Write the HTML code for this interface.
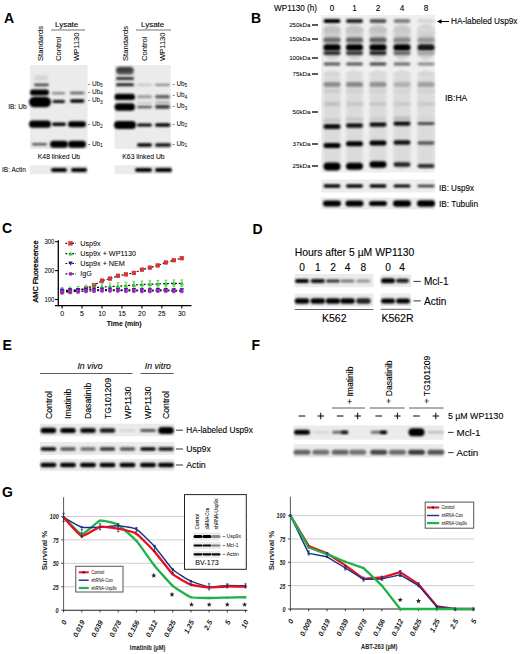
<!DOCTYPE html><html><head><meta charset="utf-8"><style>html,body{margin:0;padding:0;background:#fff;}svg{display:block;}text{font-family:"Liberation Sans",sans-serif;}</style></head><body>
<svg width="520" height="654" viewBox="0 0 520 654">
<defs><filter id="b1" x="-50%" y="-100%" width="200%" height="300%"><feGaussianBlur stdDeviation="0.9"/></filter><filter id="b2" x="-50%" y="-100%" width="200%" height="300%"><feGaussianBlur stdDeviation="1.6"/></filter><filter id="b05" x="-50%" y="-100%" width="200%" height="300%"><feGaussianBlur stdDeviation="0.5"/></filter></defs>
<rect width="520" height="654" fill="#fff"/>
<text x="4.00" y="23.30" font-size="14" text-anchor="start" font-weight="bold" font-style="normal" fill="#000" stroke="#000" stroke-width="0.0">A</text>
<text x="55.00" y="27.00" font-size="8" text-anchor="start" font-weight="normal" font-style="normal" fill="#000" stroke="#000" stroke-width="0.1">Lysate</text>
<line x1="51.00" y1="30.00" x2="85.00" y2="30.00" stroke="#333" stroke-width="0.7"/>
<text x="43.27" y="61.00" font-size="7.7" text-anchor="start" font-weight="normal" font-style="normal" fill="#000" stroke="#000" stroke-width="0.05" transform="rotate(-90 43.27 61.00)">Standards</text>
<text x="60.74" y="61.00" font-size="7.6" text-anchor="start" font-weight="normal" font-style="normal" fill="#000" stroke="#000" stroke-width="0.05" transform="rotate(-90 60.74 61.00)">Control</text>
<text x="79.24" y="61.00" font-size="7.6" text-anchor="start" font-weight="normal" font-style="normal" fill="#000" stroke="#000" stroke-width="0.05" transform="rotate(-90 79.24 61.00)">WP1130</text>
<rect x="30.00" y="65.00" width="57.50" height="84.00" fill="#ebebeb"/>
<text x="59.00" y="159.45" font-size="6.8" text-anchor="middle" font-weight="normal" font-style="normal" fill="#000" stroke="#000" stroke-width="0.05">K48 linked Ub</text>
<rect x="30.00" y="165.30" width="57.50" height="8.90" fill="#ebebeb"/>
<text x="141.00" y="27.00" font-size="8" text-anchor="start" font-weight="normal" font-style="normal" fill="#000" stroke="#000" stroke-width="0.1">Lysate</text>
<line x1="136.00" y1="30.00" x2="171.00" y2="30.00" stroke="#333" stroke-width="0.7"/>
<text x="127.77" y="61.00" font-size="7.7" text-anchor="start" font-weight="normal" font-style="normal" fill="#000" stroke="#000" stroke-width="0.05" transform="rotate(-90 127.77 61.00)">Standards</text>
<text x="146.74" y="61.00" font-size="7.6" text-anchor="start" font-weight="normal" font-style="normal" fill="#000" stroke="#000" stroke-width="0.05" transform="rotate(-90 146.74 61.00)">Control</text>
<text x="165.24" y="61.00" font-size="7.6" text-anchor="start" font-weight="normal" font-style="normal" fill="#000" stroke="#000" stroke-width="0.05" transform="rotate(-90 165.24 61.00)">WP1130</text>
<rect x="114.50" y="65.00" width="56.20" height="84.00" fill="#ebebeb"/>
<text x="143.50" y="159.45" font-size="6.8" text-anchor="middle" font-weight="normal" font-style="normal" fill="#000" stroke="#000" stroke-width="0.05">K63 linked Ub</text>
<rect x="114.50" y="165.30" width="57.70" height="8.90" fill="#ebebeb"/>
<rect x="34.00" y="83.40" width="14.80" height="2.80" rx="1.40" fill="#464646" filter="url(#b1)"/>
<rect x="34.00" y="75.00" width="14.00" height="6.00" rx="3.00" fill="#d4d4d4" filter="url(#b2)"/>
<rect x="30.00" y="89.50" width="19.00" height="6.00" rx="3.00" fill="#000000" filter="url(#b1)"/>
<rect x="52.00" y="92.30" width="13.00" height="2.00" rx="1.00" fill="#767676" filter="url(#b1)"/>
<rect x="70.00" y="91.85" width="14.50" height="2.50" rx="1.25" fill="#5e5e5e" filter="url(#b1)"/>
<rect x="29.00" y="96.75" width="22.00" height="10.50" rx="5.25" fill="#000000" filter="url(#b1)"/>
<rect x="52.50" y="100.00" width="12.50" height="3.00" rx="1.50" fill="#0c0c0c" filter="url(#b1)"/>
<rect x="70.00" y="99.35" width="14.50" height="3.50" rx="1.75" fill="#000000" filter="url(#b1)"/>
<rect x="29.00" y="120.60" width="22.00" height="7.20" rx="3.60" fill="#000000" filter="url(#b1)"/>
<rect x="52.00" y="122.55" width="14.00" height="3.50" rx="1.75" fill="#000000" filter="url(#b1)"/>
<rect x="68.00" y="121.30" width="18.00" height="6.00" rx="3.00" fill="#000000" filter="url(#b1)"/>
<rect x="32.00" y="143.05" width="15.00" height="2.50" rx="1.25" fill="#525252" filter="url(#b1)"/>
<rect x="50.00" y="140.80" width="18.00" height="7.00" rx="3.50" fill="#000000" filter="url(#b1)"/>
<rect x="68.00" y="140.80" width="18.00" height="7.00" rx="3.50" fill="#000000" filter="url(#b1)"/>
<rect x="51.00" y="168.00" width="16.00" height="4.00" rx="2.00" fill="#000000" filter="url(#b1)"/>
<rect x="71.00" y="168.00" width="16.00" height="4.00" rx="2.00" fill="#000000" filter="url(#b1)"/>
<text x="88.00" y="85.80" font-size="6.4" fill="#000">- Ub<tspan font-size="5" dy="1.6">5</tspan></text>
<text x="88.00" y="93.70" font-size="6.4" fill="#000">- Ub<tspan font-size="5" dy="1.6">4</tspan></text>
<text x="88.00" y="102.30" font-size="6.4" fill="#000">- Ub<tspan font-size="5" dy="1.6">3</tspan></text>
<text x="88.00" y="126.00" font-size="6.4" fill="#000">- Ub<tspan font-size="5" dy="1.6">2</tspan></text>
<text x="88.00" y="145.50" font-size="6.4" fill="#000">- Ub<tspan font-size="5" dy="1.6">1</tspan></text>
<text x="8.25" y="109.38" font-size="6.6" text-anchor="start" font-weight="normal" font-style="normal" fill="#000" stroke="#000" stroke-width="0.05">IB: Ub</text>
<text x="2.00" y="171.84" font-size="6.5" text-anchor="start" font-weight="normal" font-style="normal" fill="#000" stroke="#000" stroke-width="0.05">IB: Actin</text>
<rect x="116.00" y="66.80" width="18.00" height="8.00" rx="4.00" fill="#5e5e5e" filter="url(#b1)"/>
<rect x="117.00" y="68.00" width="15.00" height="4.00" rx="2.00" fill="#3b3b3b" filter="url(#b1)"/>
<rect x="116.00" y="77.10" width="18.00" height="2.80" rx="1.40" fill="#2f2f2f" filter="url(#b1)"/>
<rect x="116.00" y="83.30" width="18.00" height="3.00" rx="1.50" fill="#232323" filter="url(#b1)"/>
<rect x="137.00" y="83.90" width="15.00" height="1.80" rx="0.90" fill="#bcbcbc" filter="url(#b1)"/>
<rect x="155.00" y="83.70" width="15.00" height="2.20" rx="1.10" fill="#8d8d8d" filter="url(#b1)"/>
<rect x="114.50" y="93.75" width="20.50" height="6.30" rx="3.15" fill="#000000" filter="url(#b1)"/>
<rect x="137.00" y="95.20" width="15.00" height="3.00" rx="1.50" fill="#999999" filter="url(#b1)"/>
<rect x="155.00" y="94.95" width="15.00" height="3.50" rx="1.75" fill="#5e5e5e" filter="url(#b1)"/>
<rect x="114.50" y="103.25" width="20.50" height="7.50" rx="3.75" fill="#000000" filter="url(#b1)"/>
<rect x="137.00" y="105.75" width="15.00" height="2.50" rx="1.25" fill="#525252" filter="url(#b1)"/>
<rect x="155.00" y="104.70" width="15.00" height="4.00" rx="2.00" fill="#3b3b3b" filter="url(#b1)"/>
<rect x="137.00" y="102.00" width="15.00" height="2.00" rx="1.00" fill="#c8c8c8" filter="url(#b1)"/>
<rect x="155.00" y="101.25" width="15.00" height="2.50" rx="1.25" fill="#b0b0b0" filter="url(#b1)"/>
<rect x="114.00" y="121.00" width="22.00" height="8.00" rx="4.00" fill="#000000" filter="url(#b1)"/>
<rect x="137.00" y="123.40" width="15.00" height="3.20" rx="1.60" fill="#000000" filter="url(#b1)"/>
<rect x="155.00" y="123.25" width="15.50" height="3.50" rx="1.75" fill="#000000" filter="url(#b1)"/>
<rect x="137.00" y="143.25" width="15.00" height="3.50" rx="1.75" fill="#000000" filter="url(#b1)"/>
<rect x="155.00" y="143.25" width="16.00" height="3.50" rx="1.75" fill="#0c0c0c" filter="url(#b1)"/>
<rect x="135.00" y="168.00" width="17.00" height="4.00" rx="2.00" fill="#000000" filter="url(#b1)"/>
<rect x="155.00" y="168.00" width="17.00" height="4.00" rx="2.00" fill="#000000" filter="url(#b1)"/>
<text x="172.50" y="85.80" font-size="6.4" fill="#000">- Ub<tspan font-size="5" dy="1.6">5</tspan></text>
<text x="172.50" y="97.30" font-size="6.4" fill="#000">- Ub<tspan font-size="5" dy="1.6">4</tspan></text>
<text x="172.50" y="108.00" font-size="6.4" fill="#000">- Ub<tspan font-size="5" dy="1.6">3</tspan></text>
<text x="172.50" y="125.80" font-size="6.4" fill="#000">- Ub<tspan font-size="5" dy="1.6">2</tspan></text>
<text x="172.50" y="145.75" font-size="6.4" fill="#000">- Ub<tspan font-size="5" dy="1.6">1</tspan></text>
<text x="251.00" y="23.30" font-size="14" text-anchor="start" font-weight="bold" font-style="normal" fill="#000" stroke="#000" stroke-width="0.0">B</text>
<text x="274.00" y="10.95" font-size="8.2" text-anchor="start" font-weight="normal" font-style="normal" fill="#000" stroke="#000" stroke-width="0.1">WP1130 (h)</text>
<text x="332.00" y="10.95" font-size="8.2" text-anchor="middle" font-weight="normal" font-style="normal" fill="#000" stroke="#000" stroke-width="0.1">0</text>
<text x="354.50" y="10.95" font-size="8.2" text-anchor="middle" font-weight="normal" font-style="normal" fill="#000" stroke="#000" stroke-width="0.1">1</text>
<text x="378.00" y="10.95" font-size="8.2" text-anchor="middle" font-weight="normal" font-style="normal" fill="#000" stroke="#000" stroke-width="0.1">2</text>
<text x="402.00" y="10.95" font-size="8.2" text-anchor="middle" font-weight="normal" font-style="normal" fill="#000" stroke="#000" stroke-width="0.1">4</text>
<text x="426.00" y="10.95" font-size="8.2" text-anchor="middle" font-weight="normal" font-style="normal" fill="#000" stroke="#000" stroke-width="0.1">8</text>
<rect x="321.00" y="15.00" width="114.00" height="157.50" fill="#efefef"/>
<rect x="323.50" y="24.00" width="17.00" height="36.00" rx="8.50" fill="#cfcfcf" filter="url(#b2)"/>
<rect x="323.50" y="70.00" width="17.00" height="100.00" rx="8.50" fill="#dbdbdb" filter="url(#b2)"/>
<rect x="346.00" y="24.00" width="17.00" height="36.00" rx="8.50" fill="#cfcfcf" filter="url(#b2)"/>
<rect x="346.00" y="70.00" width="17.00" height="100.00" rx="8.50" fill="#dbdbdb" filter="url(#b2)"/>
<rect x="369.50" y="24.00" width="17.00" height="36.00" rx="8.50" fill="#cfcfcf" filter="url(#b2)"/>
<rect x="369.50" y="70.00" width="17.00" height="100.00" rx="8.50" fill="#dbdbdb" filter="url(#b2)"/>
<rect x="393.50" y="24.00" width="17.00" height="36.00" rx="8.50" fill="#cfcfcf" filter="url(#b2)"/>
<rect x="393.50" y="70.00" width="17.00" height="100.00" rx="8.50" fill="#dbdbdb" filter="url(#b2)"/>
<rect x="417.50" y="24.00" width="17.00" height="36.00" rx="8.50" fill="#cfcfcf" filter="url(#b2)"/>
<rect x="417.50" y="70.00" width="17.00" height="100.00" rx="8.50" fill="#dbdbdb" filter="url(#b2)"/>
<text x="310.50" y="27.23" font-size="6.2" text-anchor="end" font-weight="normal" font-style="normal" fill="#000" stroke="#000" stroke-width="0.05">250kDa</text>
<line x1="312.00" y1="25.00" x2="318.00" y2="25.00" stroke="#000" stroke-width="1.3"/>
<text x="310.50" y="41.23" font-size="6.2" text-anchor="end" font-weight="normal" font-style="normal" fill="#000" stroke="#000" stroke-width="0.05">150kDa</text>
<line x1="312.00" y1="39.00" x2="318.00" y2="39.00" stroke="#000" stroke-width="1.3"/>
<text x="310.50" y="60.23" font-size="6.2" text-anchor="end" font-weight="normal" font-style="normal" fill="#000" stroke="#000" stroke-width="0.05">100kDa</text>
<line x1="312.00" y1="58.00" x2="318.00" y2="58.00" stroke="#000" stroke-width="1.3"/>
<text x="310.50" y="76.23" font-size="6.2" text-anchor="end" font-weight="normal" font-style="normal" fill="#000" stroke="#000" stroke-width="0.05">75kDa</text>
<line x1="312.00" y1="74.00" x2="318.00" y2="74.00" stroke="#000" stroke-width="1.3"/>
<text x="310.50" y="114.23" font-size="6.2" text-anchor="end" font-weight="normal" font-style="normal" fill="#000" stroke="#000" stroke-width="0.05">50kDa</text>
<line x1="312.00" y1="112.00" x2="318.00" y2="112.00" stroke="#000" stroke-width="1.3"/>
<text x="310.50" y="146.23" font-size="6.2" text-anchor="end" font-weight="normal" font-style="normal" fill="#000" stroke="#000" stroke-width="0.05">37kDa</text>
<line x1="312.00" y1="144.00" x2="318.00" y2="144.00" stroke="#000" stroke-width="1.3"/>
<text x="310.50" y="168.23" font-size="6.2" text-anchor="end" font-weight="normal" font-style="normal" fill="#000" stroke="#000" stroke-width="0.05">25kDa</text>
<line x1="312.00" y1="166.00" x2="318.00" y2="166.00" stroke="#000" stroke-width="1.3"/>
<rect x="323.50" y="19.00" width="17.00" height="4.00" rx="2.00" fill="#000000" filter="url(#b1)"/>
<rect x="346.00" y="19.00" width="17.00" height="4.00" rx="2.00" fill="#232323" filter="url(#b1)"/>
<rect x="369.50" y="19.00" width="17.00" height="4.00" rx="2.00" fill="#525252" filter="url(#b1)"/>
<rect x="393.50" y="19.00" width="17.00" height="4.00" rx="2.00" fill="#818181" filter="url(#b1)"/>
<rect x="417.50" y="19.00" width="17.00" height="4.00" rx="2.00" fill="#d4d4d4" filter="url(#b1)"/>
<rect x="323.50" y="27.00" width="17.00" height="6.00" rx="3.00" fill="#c1c1c1" filter="url(#b1)"/>
<rect x="346.00" y="27.00" width="17.00" height="6.00" rx="3.00" fill="#c5c5c5" filter="url(#b1)"/>
<rect x="369.50" y="27.00" width="17.00" height="6.00" rx="3.00" fill="#c1c1c1" filter="url(#b1)"/>
<rect x="393.50" y="27.00" width="17.00" height="6.00" rx="3.00" fill="#cacaca" filter="url(#b1)"/>
<rect x="417.50" y="27.00" width="17.00" height="6.00" rx="3.00" fill="#d8d8d8" filter="url(#b1)"/>
<rect x="323.50" y="37.50" width="17.00" height="5.00" rx="2.50" fill="#6a6a6a" filter="url(#b1)"/>
<rect x="346.00" y="37.50" width="17.00" height="5.00" rx="2.50" fill="#636363" filter="url(#b1)"/>
<rect x="369.50" y="37.50" width="17.00" height="5.00" rx="2.50" fill="#5e5e5e" filter="url(#b1)"/>
<rect x="393.50" y="37.50" width="17.00" height="5.00" rx="2.50" fill="#888888" filter="url(#b1)"/>
<rect x="417.50" y="37.50" width="17.00" height="5.00" rx="2.50" fill="#999999" filter="url(#b1)"/>
<rect x="323.50" y="44.25" width="17.00" height="6.50" rx="3.25" fill="#000000" filter="url(#b1)"/>
<rect x="346.00" y="44.25" width="17.00" height="6.50" rx="3.25" fill="#000000" filter="url(#b1)"/>
<rect x="369.50" y="44.25" width="17.00" height="6.50" rx="3.25" fill="#000000" filter="url(#b1)"/>
<rect x="393.50" y="44.25" width="17.00" height="6.50" rx="3.25" fill="#000000" filter="url(#b1)"/>
<rect x="417.50" y="44.25" width="17.00" height="6.50" rx="3.25" fill="#181818" filter="url(#b1)"/>
<rect x="323.50" y="51.00" width="17.00" height="4.00" rx="2.00" fill="#2f2f2f" filter="url(#b1)"/>
<rect x="346.00" y="51.00" width="17.00" height="4.00" rx="2.00" fill="#3b3b3b" filter="url(#b1)"/>
<rect x="369.50" y="51.00" width="17.00" height="4.00" rx="2.00" fill="#232323" filter="url(#b1)"/>
<rect x="393.50" y="51.00" width="17.00" height="4.00" rx="2.00" fill="#6a6a6a" filter="url(#b1)"/>
<rect x="417.50" y="51.00" width="17.00" height="4.00" rx="2.00" fill="#a4a4a4" filter="url(#b1)"/>
<rect x="323.50" y="62.25" width="17.00" height="3.50" rx="1.75" fill="#636363" filter="url(#b1)"/>
<rect x="346.00" y="62.25" width="17.00" height="3.50" rx="1.75" fill="#636363" filter="url(#b1)"/>
<rect x="369.50" y="62.25" width="17.00" height="3.50" rx="1.75" fill="#525252" filter="url(#b1)"/>
<rect x="393.50" y="62.25" width="17.00" height="3.50" rx="1.75" fill="#767676" filter="url(#b1)"/>
<rect x="417.50" y="62.25" width="17.00" height="3.50" rx="1.75" fill="#929292" filter="url(#b1)"/>
<rect x="323.50" y="72.50" width="17.00" height="3.00" rx="1.50" fill="#d4d4d4" filter="url(#b1)"/>
<rect x="346.00" y="72.50" width="17.00" height="3.00" rx="1.50" fill="#d8d8d8" filter="url(#b1)"/>
<rect x="369.50" y="72.50" width="17.00" height="3.00" rx="1.50" fill="#d8d8d8" filter="url(#b1)"/>
<rect x="393.50" y="72.50" width="17.00" height="3.00" rx="1.50" fill="#d8d8d8" filter="url(#b1)"/>
<rect x="417.50" y="72.50" width="17.00" height="3.00" rx="1.50" fill="#d4d4d4" filter="url(#b1)"/>
<rect x="323.50" y="82.00" width="17.00" height="5.00" rx="2.50" fill="#8d8d8d" filter="url(#b1)"/>
<rect x="346.00" y="82.00" width="17.00" height="5.00" rx="2.50" fill="#888888" filter="url(#b1)"/>
<rect x="369.50" y="82.00" width="17.00" height="5.00" rx="2.50" fill="#929292" filter="url(#b1)"/>
<rect x="393.50" y="82.00" width="17.00" height="5.00" rx="2.50" fill="#b0b0b0" filter="url(#b1)"/>
<rect x="417.50" y="82.00" width="17.00" height="5.00" rx="2.50" fill="#a0a0a0" filter="url(#b1)"/>
<rect x="323.50" y="89.50" width="17.00" height="3.00" rx="1.50" fill="#c8c8c8" filter="url(#b1)"/>
<rect x="346.00" y="89.50" width="17.00" height="3.00" rx="1.50" fill="#cfcfcf" filter="url(#b1)"/>
<rect x="369.50" y="89.50" width="17.00" height="3.00" rx="1.50" fill="#cfcfcf" filter="url(#b1)"/>
<rect x="393.50" y="89.50" width="17.00" height="3.00" rx="1.50" fill="#d4d4d4" filter="url(#b1)"/>
<rect x="417.50" y="89.50" width="17.00" height="3.00" rx="1.50" fill="#cfcfcf" filter="url(#b1)"/>
<rect x="323.50" y="102.00" width="17.00" height="4.00" rx="2.00" fill="#c1c1c1" filter="url(#b1)"/>
<rect x="346.00" y="102.00" width="17.00" height="4.00" rx="2.00" fill="#c8c8c8" filter="url(#b1)"/>
<rect x="369.50" y="102.00" width="17.00" height="4.00" rx="2.00" fill="#c8c8c8" filter="url(#b1)"/>
<rect x="393.50" y="102.00" width="17.00" height="4.00" rx="2.00" fill="#cacaca" filter="url(#b1)"/>
<rect x="417.50" y="102.00" width="17.00" height="4.00" rx="2.00" fill="#cacaca" filter="url(#b1)"/>
<rect x="323.50" y="124.00" width="17.00" height="5.00" rx="2.50" fill="#0c0c0c" filter="url(#b1)"/>
<rect x="346.00" y="123.25" width="17.00" height="4.50" rx="2.25" fill="#0c0c0c" filter="url(#b1)"/>
<rect x="369.50" y="122.25" width="17.00" height="4.50" rx="2.25" fill="#0c0c0c" filter="url(#b1)"/>
<rect x="393.50" y="121.25" width="17.00" height="4.50" rx="2.25" fill="#0c0c0c" filter="url(#b1)"/>
<rect x="417.50" y="122.00" width="17.00" height="3.00" rx="1.50" fill="#464646" filter="url(#b1)"/>
<rect x="323.50" y="143.00" width="17.00" height="5.00" rx="2.50" fill="#000000" filter="url(#b1)"/>
<rect x="346.00" y="141.30" width="17.00" height="5.00" rx="2.50" fill="#000000" filter="url(#b1)"/>
<rect x="369.50" y="140.50" width="17.00" height="5.00" rx="2.50" fill="#000000" filter="url(#b1)"/>
<rect x="393.50" y="140.25" width="17.00" height="4.50" rx="2.25" fill="#0c0c0c" filter="url(#b1)"/>
<rect x="417.50" y="141.25" width="17.00" height="3.50" rx="1.75" fill="#525252" filter="url(#b1)"/>
<rect x="323.50" y="162.50" width="17.00" height="8.00" rx="4.00" fill="#000000" filter="url(#b1)"/>
<rect x="346.00" y="162.80" width="17.00" height="7.00" rx="3.50" fill="#000000" filter="url(#b1)"/>
<rect x="369.50" y="161.25" width="17.00" height="6.50" rx="3.25" fill="#000000" filter="url(#b1)"/>
<rect x="393.50" y="162.25" width="17.00" height="4.50" rx="2.25" fill="#232323" filter="url(#b1)"/>
<rect x="417.50" y="164.00" width="17.00" height="4.00" rx="2.00" fill="#2f2f2f" filter="url(#b1)"/>
<rect x="323.50" y="118.50" width="17.00" height="4.00" rx="2.00" fill="#c8c8c8" filter="url(#b1)"/>
<rect x="346.00" y="117.50" width="17.00" height="4.00" rx="2.00" fill="#c8c8c8" filter="url(#b1)"/>
<rect x="369.50" y="117.00" width="17.00" height="4.00" rx="2.00" fill="#cccccc" filter="url(#b1)"/>
<rect x="393.50" y="116.50" width="17.00" height="4.00" rx="2.00" fill="#bcbcbc" filter="url(#b1)"/>
<rect x="417.50" y="117.00" width="17.00" height="3.00" rx="1.50" fill="#d4d4d4" filter="url(#b1)"/>
<line x1="440.00" y1="21.50" x2="449.00" y2="21.50" stroke="#000" stroke-width="1"/>
<polygon points="437,21.5 441.5,19.3 441.5,23.7" fill="#000"/>
<text x="451.00" y="24.47" font-size="8.25" text-anchor="start" font-weight="normal" font-style="normal" fill="#000" stroke="#000" stroke-width="0.1">HA-labeled Usp9x</text>
<text x="445.00" y="100.66" font-size="8.5" text-anchor="start" font-weight="normal" font-style="normal" fill="#000" stroke="#000" stroke-width="0.1">IB:HA</text>
<rect x="321.00" y="179.50" width="114.00" height="13.00" fill="#ededed"/>
<rect x="323.50" y="184.25" width="17.00" height="3.50" rx="1.75" fill="#000000" filter="url(#b1)"/>
<rect x="346.00" y="184.25" width="17.00" height="3.50" rx="1.75" fill="#000000" filter="url(#b1)"/>
<rect x="369.50" y="184.25" width="17.00" height="3.50" rx="1.75" fill="#000000" filter="url(#b1)"/>
<rect x="393.50" y="184.50" width="17.00" height="3.00" rx="1.50" fill="#000000" filter="url(#b1)"/>
<rect x="417.50" y="184.75" width="17.00" height="2.50" rx="1.25" fill="#2f2f2f" filter="url(#b1)"/>
<rect x="321.00" y="197.50" width="114.00" height="12.00" fill="#ebebeb"/>
<rect x="323.00" y="200.50" width="18.00" height="6.00" rx="3.00" fill="#000000" filter="url(#b1)"/>
<rect x="345.50" y="200.50" width="18.00" height="6.00" rx="3.00" fill="#000000" filter="url(#b1)"/>
<rect x="369.00" y="201.00" width="18.00" height="5.00" rx="2.50" fill="#000000" filter="url(#b1)"/>
<rect x="393.00" y="200.25" width="18.00" height="6.50" rx="3.25" fill="#000000" filter="url(#b1)"/>
<rect x="417.00" y="200.25" width="18.00" height="6.50" rx="3.25" fill="#000000" filter="url(#b1)"/>
<text x="439.00" y="190.56" font-size="8.5" text-anchor="start" font-weight="normal" font-style="normal" fill="#000" stroke="#000" stroke-width="0.1" textLength="35" lengthAdjust="spacingAndGlyphs">IB: Usp9x</text>
<text x="439.00" y="207.06" font-size="8.5" text-anchor="start" font-weight="normal" font-style="normal" fill="#000" stroke="#000" stroke-width="0.1" textLength="39" lengthAdjust="spacingAndGlyphs">IB: Tubulin</text>
<text x="2.00" y="233.30" font-size="14" text-anchor="start" font-weight="bold" font-style="normal" fill="#000" stroke="#000" stroke-width="0.0">C</text>
<line x1="58.30" y1="240.30" x2="58.30" y2="306.30" stroke="#000" stroke-width="1.3"/>
<line x1="55.00" y1="305.70" x2="191.50" y2="305.70" stroke="#000" stroke-width="1.3"/>
<line x1="55.10" y1="299.50" x2="58.30" y2="299.50" stroke="#000" stroke-width="1.1"/>
<text x="54.40" y="302.02" font-size="7" text-anchor="end" font-weight="normal" font-style="normal" fill="#000" stroke="#000" stroke-width="0.05" textLength="10" lengthAdjust="spacingAndGlyphs">100</text>
<line x1="55.10" y1="270.60" x2="58.30" y2="270.60" stroke="#000" stroke-width="1.1"/>
<text x="54.40" y="273.12" font-size="7" text-anchor="end" font-weight="normal" font-style="normal" fill="#000" stroke="#000" stroke-width="0.05" textLength="10" lengthAdjust="spacingAndGlyphs">200</text>
<line x1="55.10" y1="241.70" x2="58.30" y2="241.70" stroke="#000" stroke-width="1.1"/>
<text x="54.40" y="244.22" font-size="7" text-anchor="end" font-weight="normal" font-style="normal" fill="#000" stroke="#000" stroke-width="0.05" textLength="10" lengthAdjust="spacingAndGlyphs">300</text>
<line x1="62.10" y1="305.70" x2="62.10" y2="308.60" stroke="#000" stroke-width="1.1"/>
<text x="62.10" y="316.02" font-size="7" text-anchor="middle" font-weight="normal" font-style="normal" fill="#000" stroke="#000" stroke-width="0.05" textLength="3.9" lengthAdjust="spacingAndGlyphs">0</text>
<line x1="82.05" y1="305.70" x2="82.05" y2="308.60" stroke="#000" stroke-width="1.1"/>
<text x="82.05" y="316.02" font-size="7" text-anchor="middle" font-weight="normal" font-style="normal" fill="#000" stroke="#000" stroke-width="0.05" textLength="3.9" lengthAdjust="spacingAndGlyphs">5</text>
<line x1="102.00" y1="305.70" x2="102.00" y2="308.60" stroke="#000" stroke-width="1.1"/>
<text x="102.00" y="316.02" font-size="7" text-anchor="middle" font-weight="normal" font-style="normal" fill="#000" stroke="#000" stroke-width="0.05" textLength="7.6" lengthAdjust="spacingAndGlyphs">10</text>
<line x1="121.95" y1="305.70" x2="121.95" y2="308.60" stroke="#000" stroke-width="1.1"/>
<text x="121.95" y="316.02" font-size="7" text-anchor="middle" font-weight="normal" font-style="normal" fill="#000" stroke="#000" stroke-width="0.05" textLength="7.6" lengthAdjust="spacingAndGlyphs">15</text>
<line x1="141.90" y1="305.70" x2="141.90" y2="308.60" stroke="#000" stroke-width="1.1"/>
<text x="141.90" y="316.02" font-size="7" text-anchor="middle" font-weight="normal" font-style="normal" fill="#000" stroke="#000" stroke-width="0.05" textLength="7.6" lengthAdjust="spacingAndGlyphs">20</text>
<line x1="161.85" y1="305.70" x2="161.85" y2="308.60" stroke="#000" stroke-width="1.1"/>
<text x="161.85" y="316.02" font-size="7" text-anchor="middle" font-weight="normal" font-style="normal" fill="#000" stroke="#000" stroke-width="0.05" textLength="7.6" lengthAdjust="spacingAndGlyphs">25</text>
<line x1="181.80" y1="305.70" x2="181.80" y2="308.60" stroke="#000" stroke-width="1.1"/>
<text x="181.80" y="316.02" font-size="7" text-anchor="middle" font-weight="normal" font-style="normal" fill="#000" stroke="#000" stroke-width="0.05" textLength="7.6" lengthAdjust="spacingAndGlyphs">30</text>
<text x="124.20" y="326.26" font-size="7.1" text-anchor="middle" font-weight="bold" font-style="normal" fill="#000" stroke="#000" stroke-width="0.0" textLength="35" lengthAdjust="spacingAndGlyphs">Time (min)</text>
<text x="38.06" y="302.50" font-size="7.4" text-anchor="start" font-weight="normal" font-style="normal" fill="#000" stroke="#000" stroke-width="0.3" transform="rotate(-90 38.06 302.50)" textLength="62" lengthAdjust="spacingAndGlyphs">AMC Fluorescence</text>
<polyline points="62.10,291.70 70.08,291.41 78.06,290.25 86.04,288.52 94.02,285.05 102.00,280.71 109.98,278.69 117.96,275.80 125.94,274.36 133.92,272.91 141.90,269.73 149.88,267.71 157.86,265.40 165.84,262.51 173.82,260.20 181.80,258.17" fill="none" stroke="#111" stroke-width="1.2" stroke-dasharray="2,1.9"/>
<polyline points="62.10,290.83 70.08,290.54 78.06,289.96 86.04,288.52 94.02,287.65 102.00,287.07 109.98,286.50 117.96,286.21 125.94,285.63 133.92,285.05 141.90,284.47 149.88,284.18 157.86,283.89 165.84,283.61 173.82,283.32 181.80,283.32" fill="none" stroke="#111" stroke-width="1.2" stroke-dasharray="2,1.9"/>
<polyline points="62.10,290.54 70.08,290.25 78.06,289.96 86.04,289.67 94.02,289.67 102.00,289.67 109.98,289.67 117.96,289.96 125.94,289.96 133.92,289.96 141.90,290.25 149.88,290.25 157.86,289.96 165.84,289.96 173.82,290.25 181.80,290.25" fill="none" stroke="#111" stroke-width="1.2" stroke-dasharray="2,1.9"/>
<polyline points="62.10,292.27 70.08,291.70 78.06,291.41 86.04,291.12 94.02,290.83 102.00,290.54 109.98,290.54 117.96,290.54 125.94,290.83 133.92,290.83 141.90,291.12 149.88,291.12 157.86,290.83 165.84,290.83 173.82,291.12 181.80,291.12" fill="none" stroke="#111" stroke-width="1.2" stroke-dasharray="2,1.9"/>
<line x1="62.10" y1="290.70" x2="62.10" y2="292.70" stroke="#e03030" stroke-width="0.8"/>
<line x1="60.70" y1="290.70" x2="63.50" y2="290.70" stroke="#e03030" stroke-width="0.8"/>
<line x1="60.70" y1="292.70" x2="63.50" y2="292.70" stroke="#e03030" stroke-width="0.8"/>
<rect x="60.20" y="289.80" width="3.80" height="3.80" fill="#e03030" stroke="#c02838" stroke-width="0.4"/>
<line x1="70.08" y1="290.41" x2="70.08" y2="292.41" stroke="#e03030" stroke-width="0.8"/>
<line x1="68.68" y1="290.41" x2="71.48" y2="290.41" stroke="#e03030" stroke-width="0.8"/>
<line x1="68.68" y1="292.41" x2="71.48" y2="292.41" stroke="#e03030" stroke-width="0.8"/>
<rect x="68.18" y="289.51" width="3.80" height="3.80" fill="#e03030" stroke="#c02838" stroke-width="0.4"/>
<line x1="78.06" y1="289.25" x2="78.06" y2="291.25" stroke="#e03030" stroke-width="0.8"/>
<line x1="76.66" y1="289.25" x2="79.46" y2="289.25" stroke="#e03030" stroke-width="0.8"/>
<line x1="76.66" y1="291.25" x2="79.46" y2="291.25" stroke="#e03030" stroke-width="0.8"/>
<rect x="76.16" y="288.35" width="3.80" height="3.80" fill="#e03030" stroke="#c02838" stroke-width="0.4"/>
<line x1="86.04" y1="287.52" x2="86.04" y2="289.52" stroke="#e03030" stroke-width="0.8"/>
<line x1="84.64" y1="287.52" x2="87.44" y2="287.52" stroke="#e03030" stroke-width="0.8"/>
<line x1="84.64" y1="289.52" x2="87.44" y2="289.52" stroke="#e03030" stroke-width="0.8"/>
<rect x="84.14" y="286.62" width="3.80" height="3.80" fill="#e03030" stroke="#c02838" stroke-width="0.4"/>
<line x1="94.02" y1="284.05" x2="94.02" y2="286.05" stroke="#e03030" stroke-width="0.8"/>
<line x1="92.62" y1="284.05" x2="95.42" y2="284.05" stroke="#e03030" stroke-width="0.8"/>
<line x1="92.62" y1="286.05" x2="95.42" y2="286.05" stroke="#e03030" stroke-width="0.8"/>
<rect x="92.12" y="283.15" width="3.80" height="3.80" fill="#e03030" stroke="#c02838" stroke-width="0.4"/>
<line x1="102.00" y1="279.71" x2="102.00" y2="281.71" stroke="#e03030" stroke-width="0.8"/>
<line x1="100.60" y1="279.71" x2="103.40" y2="279.71" stroke="#e03030" stroke-width="0.8"/>
<line x1="100.60" y1="281.71" x2="103.40" y2="281.71" stroke="#e03030" stroke-width="0.8"/>
<rect x="100.10" y="278.81" width="3.80" height="3.80" fill="#e03030" stroke="#c02838" stroke-width="0.4"/>
<line x1="109.98" y1="277.69" x2="109.98" y2="279.69" stroke="#e03030" stroke-width="0.8"/>
<line x1="108.58" y1="277.69" x2="111.38" y2="277.69" stroke="#e03030" stroke-width="0.8"/>
<line x1="108.58" y1="279.69" x2="111.38" y2="279.69" stroke="#e03030" stroke-width="0.8"/>
<rect x="108.08" y="276.79" width="3.80" height="3.80" fill="#e03030" stroke="#c02838" stroke-width="0.4"/>
<line x1="117.96" y1="274.80" x2="117.96" y2="276.80" stroke="#e03030" stroke-width="0.8"/>
<line x1="116.56" y1="274.80" x2="119.36" y2="274.80" stroke="#e03030" stroke-width="0.8"/>
<line x1="116.56" y1="276.80" x2="119.36" y2="276.80" stroke="#e03030" stroke-width="0.8"/>
<rect x="116.06" y="273.90" width="3.80" height="3.80" fill="#e03030" stroke="#c02838" stroke-width="0.4"/>
<line x1="125.94" y1="273.36" x2="125.94" y2="275.36" stroke="#e03030" stroke-width="0.8"/>
<line x1="124.54" y1="273.36" x2="127.34" y2="273.36" stroke="#e03030" stroke-width="0.8"/>
<line x1="124.54" y1="275.36" x2="127.34" y2="275.36" stroke="#e03030" stroke-width="0.8"/>
<rect x="124.04" y="272.46" width="3.80" height="3.80" fill="#e03030" stroke="#c02838" stroke-width="0.4"/>
<line x1="133.92" y1="271.91" x2="133.92" y2="273.91" stroke="#e03030" stroke-width="0.8"/>
<line x1="132.52" y1="271.91" x2="135.32" y2="271.91" stroke="#e03030" stroke-width="0.8"/>
<line x1="132.52" y1="273.91" x2="135.32" y2="273.91" stroke="#e03030" stroke-width="0.8"/>
<rect x="132.02" y="271.01" width="3.80" height="3.80" fill="#e03030" stroke="#c02838" stroke-width="0.4"/>
<line x1="141.90" y1="268.73" x2="141.90" y2="270.73" stroke="#e03030" stroke-width="0.8"/>
<line x1="140.50" y1="268.73" x2="143.30" y2="268.73" stroke="#e03030" stroke-width="0.8"/>
<line x1="140.50" y1="270.73" x2="143.30" y2="270.73" stroke="#e03030" stroke-width="0.8"/>
<rect x="140.00" y="267.83" width="3.80" height="3.80" fill="#e03030" stroke="#c02838" stroke-width="0.4"/>
<line x1="149.88" y1="266.71" x2="149.88" y2="268.71" stroke="#e03030" stroke-width="0.8"/>
<line x1="148.48" y1="266.71" x2="151.28" y2="266.71" stroke="#e03030" stroke-width="0.8"/>
<line x1="148.48" y1="268.71" x2="151.28" y2="268.71" stroke="#e03030" stroke-width="0.8"/>
<rect x="147.98" y="265.81" width="3.80" height="3.80" fill="#e03030" stroke="#c02838" stroke-width="0.4"/>
<line x1="157.86" y1="264.40" x2="157.86" y2="266.40" stroke="#e03030" stroke-width="0.8"/>
<line x1="156.46" y1="264.40" x2="159.26" y2="264.40" stroke="#e03030" stroke-width="0.8"/>
<line x1="156.46" y1="266.40" x2="159.26" y2="266.40" stroke="#e03030" stroke-width="0.8"/>
<rect x="155.96" y="263.50" width="3.80" height="3.80" fill="#e03030" stroke="#c02838" stroke-width="0.4"/>
<line x1="165.84" y1="261.51" x2="165.84" y2="263.51" stroke="#e03030" stroke-width="0.8"/>
<line x1="164.44" y1="261.51" x2="167.24" y2="261.51" stroke="#e03030" stroke-width="0.8"/>
<line x1="164.44" y1="263.51" x2="167.24" y2="263.51" stroke="#e03030" stroke-width="0.8"/>
<rect x="163.94" y="260.61" width="3.80" height="3.80" fill="#e03030" stroke="#c02838" stroke-width="0.4"/>
<line x1="173.82" y1="259.20" x2="173.82" y2="261.20" stroke="#e03030" stroke-width="0.8"/>
<line x1="172.42" y1="259.20" x2="175.22" y2="259.20" stroke="#e03030" stroke-width="0.8"/>
<line x1="172.42" y1="261.20" x2="175.22" y2="261.20" stroke="#e03030" stroke-width="0.8"/>
<rect x="171.92" y="258.30" width="3.80" height="3.80" fill="#e03030" stroke="#c02838" stroke-width="0.4"/>
<line x1="181.80" y1="257.17" x2="181.80" y2="259.17" stroke="#e03030" stroke-width="0.8"/>
<line x1="180.40" y1="257.17" x2="183.20" y2="257.17" stroke="#e03030" stroke-width="0.8"/>
<line x1="180.40" y1="259.17" x2="183.20" y2="259.17" stroke="#e03030" stroke-width="0.8"/>
<rect x="179.90" y="256.27" width="3.80" height="3.80" fill="#e03030" stroke="#c02838" stroke-width="0.4"/>
<line x1="62.10" y1="287.43" x2="62.10" y2="294.23" stroke="#30d030" stroke-width="0.8"/>
<line x1="60.70" y1="287.43" x2="63.50" y2="287.43" stroke="#30d030" stroke-width="0.8"/>
<line x1="60.70" y1="294.23" x2="63.50" y2="294.23" stroke="#30d030" stroke-width="0.8"/>
<polygon points="62.10,288.63 59.90,292.73 64.30,292.73" fill="#30d030"/>
<line x1="70.08" y1="287.14" x2="70.08" y2="293.94" stroke="#30d030" stroke-width="0.8"/>
<line x1="68.68" y1="287.14" x2="71.48" y2="287.14" stroke="#30d030" stroke-width="0.8"/>
<line x1="68.68" y1="293.94" x2="71.48" y2="293.94" stroke="#30d030" stroke-width="0.8"/>
<polygon points="70.08,288.34 67.88,292.44 72.28,292.44" fill="#30d030"/>
<line x1="78.06" y1="286.56" x2="78.06" y2="293.36" stroke="#30d030" stroke-width="0.8"/>
<line x1="76.66" y1="286.56" x2="79.46" y2="286.56" stroke="#30d030" stroke-width="0.8"/>
<line x1="76.66" y1="293.36" x2="79.46" y2="293.36" stroke="#30d030" stroke-width="0.8"/>
<polygon points="78.06,287.76 75.86,291.86 80.26,291.86" fill="#30d030"/>
<line x1="86.04" y1="285.12" x2="86.04" y2="291.92" stroke="#30d030" stroke-width="0.8"/>
<line x1="84.64" y1="285.12" x2="87.44" y2="285.12" stroke="#30d030" stroke-width="0.8"/>
<line x1="84.64" y1="291.92" x2="87.44" y2="291.92" stroke="#30d030" stroke-width="0.8"/>
<polygon points="86.04,286.32 83.84,290.42 88.24,290.42" fill="#30d030"/>
<line x1="94.02" y1="284.25" x2="94.02" y2="291.05" stroke="#30d030" stroke-width="0.8"/>
<line x1="92.62" y1="284.25" x2="95.42" y2="284.25" stroke="#30d030" stroke-width="0.8"/>
<line x1="92.62" y1="291.05" x2="95.42" y2="291.05" stroke="#30d030" stroke-width="0.8"/>
<polygon points="94.02,285.45 91.82,289.55 96.22,289.55" fill="#30d030"/>
<line x1="102.00" y1="283.67" x2="102.00" y2="290.47" stroke="#30d030" stroke-width="0.8"/>
<line x1="100.60" y1="283.67" x2="103.40" y2="283.67" stroke="#30d030" stroke-width="0.8"/>
<line x1="100.60" y1="290.47" x2="103.40" y2="290.47" stroke="#30d030" stroke-width="0.8"/>
<polygon points="102.00,284.87 99.80,288.97 104.20,288.97" fill="#30d030"/>
<line x1="109.98" y1="283.10" x2="109.98" y2="289.89" stroke="#30d030" stroke-width="0.8"/>
<line x1="108.58" y1="283.10" x2="111.38" y2="283.10" stroke="#30d030" stroke-width="0.8"/>
<line x1="108.58" y1="289.89" x2="111.38" y2="289.89" stroke="#30d030" stroke-width="0.8"/>
<polygon points="109.98,284.30 107.78,288.39 112.18,288.39" fill="#30d030"/>
<line x1="117.96" y1="282.81" x2="117.96" y2="289.61" stroke="#30d030" stroke-width="0.8"/>
<line x1="116.56" y1="282.81" x2="119.36" y2="282.81" stroke="#30d030" stroke-width="0.8"/>
<line x1="116.56" y1="289.61" x2="119.36" y2="289.61" stroke="#30d030" stroke-width="0.8"/>
<polygon points="117.96,284.01 115.76,288.11 120.16,288.11" fill="#30d030"/>
<line x1="125.94" y1="282.23" x2="125.94" y2="289.03" stroke="#30d030" stroke-width="0.8"/>
<line x1="124.54" y1="282.23" x2="127.34" y2="282.23" stroke="#30d030" stroke-width="0.8"/>
<line x1="124.54" y1="289.03" x2="127.34" y2="289.03" stroke="#30d030" stroke-width="0.8"/>
<polygon points="125.94,283.43 123.74,287.53 128.14,287.53" fill="#30d030"/>
<line x1="133.92" y1="281.65" x2="133.92" y2="288.45" stroke="#30d030" stroke-width="0.8"/>
<line x1="132.52" y1="281.65" x2="135.32" y2="281.65" stroke="#30d030" stroke-width="0.8"/>
<line x1="132.52" y1="288.45" x2="135.32" y2="288.45" stroke="#30d030" stroke-width="0.8"/>
<polygon points="133.92,282.85 131.72,286.95 136.12,286.95" fill="#30d030"/>
<line x1="141.90" y1="281.07" x2="141.90" y2="287.87" stroke="#30d030" stroke-width="0.8"/>
<line x1="140.50" y1="281.07" x2="143.30" y2="281.07" stroke="#30d030" stroke-width="0.8"/>
<line x1="140.50" y1="287.87" x2="143.30" y2="287.87" stroke="#30d030" stroke-width="0.8"/>
<polygon points="141.90,282.27 139.70,286.37 144.10,286.37" fill="#30d030"/>
<line x1="149.88" y1="280.78" x2="149.88" y2="287.58" stroke="#30d030" stroke-width="0.8"/>
<line x1="148.48" y1="280.78" x2="151.28" y2="280.78" stroke="#30d030" stroke-width="0.8"/>
<line x1="148.48" y1="287.58" x2="151.28" y2="287.58" stroke="#30d030" stroke-width="0.8"/>
<polygon points="149.88,281.98 147.68,286.08 152.08,286.08" fill="#30d030"/>
<line x1="157.86" y1="280.49" x2="157.86" y2="287.29" stroke="#30d030" stroke-width="0.8"/>
<line x1="156.46" y1="280.49" x2="159.26" y2="280.49" stroke="#30d030" stroke-width="0.8"/>
<line x1="156.46" y1="287.29" x2="159.26" y2="287.29" stroke="#30d030" stroke-width="0.8"/>
<polygon points="157.86,281.69 155.66,285.79 160.06,285.79" fill="#30d030"/>
<line x1="165.84" y1="280.21" x2="165.84" y2="287.00" stroke="#30d030" stroke-width="0.8"/>
<line x1="164.44" y1="280.21" x2="167.24" y2="280.21" stroke="#30d030" stroke-width="0.8"/>
<line x1="164.44" y1="287.00" x2="167.24" y2="287.00" stroke="#30d030" stroke-width="0.8"/>
<polygon points="165.84,281.41 163.64,285.50 168.04,285.50" fill="#30d030"/>
<line x1="173.82" y1="279.92" x2="173.82" y2="286.72" stroke="#30d030" stroke-width="0.8"/>
<line x1="172.42" y1="279.92" x2="175.22" y2="279.92" stroke="#30d030" stroke-width="0.8"/>
<line x1="172.42" y1="286.72" x2="175.22" y2="286.72" stroke="#30d030" stroke-width="0.8"/>
<polygon points="173.82,281.12 171.62,285.22 176.02,285.22" fill="#30d030"/>
<line x1="181.80" y1="279.92" x2="181.80" y2="286.72" stroke="#30d030" stroke-width="0.8"/>
<line x1="180.40" y1="279.92" x2="183.20" y2="279.92" stroke="#30d030" stroke-width="0.8"/>
<line x1="180.40" y1="286.72" x2="183.20" y2="286.72" stroke="#30d030" stroke-width="0.8"/>
<polygon points="181.80,281.12 179.60,285.22 184.00,285.22" fill="#30d030"/>
<line x1="62.10" y1="289.04" x2="62.10" y2="292.04" stroke="#2020b0" stroke-width="0.8"/>
<line x1="60.70" y1="289.04" x2="63.50" y2="289.04" stroke="#2020b0" stroke-width="0.8"/>
<line x1="60.70" y1="292.04" x2="63.50" y2="292.04" stroke="#2020b0" stroke-width="0.8"/>
<polygon points="62.10,292.74 59.90,288.64 64.30,288.64" fill="#2020b0"/>
<line x1="70.08" y1="288.75" x2="70.08" y2="291.75" stroke="#2020b0" stroke-width="0.8"/>
<line x1="68.68" y1="288.75" x2="71.48" y2="288.75" stroke="#2020b0" stroke-width="0.8"/>
<line x1="68.68" y1="291.75" x2="71.48" y2="291.75" stroke="#2020b0" stroke-width="0.8"/>
<polygon points="70.08,292.45 67.88,288.35 72.28,288.35" fill="#2020b0"/>
<line x1="78.06" y1="288.46" x2="78.06" y2="291.46" stroke="#2020b0" stroke-width="0.8"/>
<line x1="76.66" y1="288.46" x2="79.46" y2="288.46" stroke="#2020b0" stroke-width="0.8"/>
<line x1="76.66" y1="291.46" x2="79.46" y2="291.46" stroke="#2020b0" stroke-width="0.8"/>
<polygon points="78.06,292.16 75.86,288.06 80.26,288.06" fill="#2020b0"/>
<line x1="86.04" y1="288.17" x2="86.04" y2="291.17" stroke="#2020b0" stroke-width="0.8"/>
<line x1="84.64" y1="288.17" x2="87.44" y2="288.17" stroke="#2020b0" stroke-width="0.8"/>
<line x1="84.64" y1="291.17" x2="87.44" y2="291.17" stroke="#2020b0" stroke-width="0.8"/>
<polygon points="86.04,291.87 83.84,287.77 88.24,287.77" fill="#2020b0"/>
<line x1="94.02" y1="288.17" x2="94.02" y2="291.17" stroke="#2020b0" stroke-width="0.8"/>
<line x1="92.62" y1="288.17" x2="95.42" y2="288.17" stroke="#2020b0" stroke-width="0.8"/>
<line x1="92.62" y1="291.17" x2="95.42" y2="291.17" stroke="#2020b0" stroke-width="0.8"/>
<polygon points="94.02,291.87 91.82,287.77 96.22,287.77" fill="#2020b0"/>
<line x1="102.00" y1="288.17" x2="102.00" y2="291.17" stroke="#2020b0" stroke-width="0.8"/>
<line x1="100.60" y1="288.17" x2="103.40" y2="288.17" stroke="#2020b0" stroke-width="0.8"/>
<line x1="100.60" y1="291.17" x2="103.40" y2="291.17" stroke="#2020b0" stroke-width="0.8"/>
<polygon points="102.00,291.87 99.80,287.77 104.20,287.77" fill="#2020b0"/>
<line x1="109.98" y1="288.17" x2="109.98" y2="291.17" stroke="#2020b0" stroke-width="0.8"/>
<line x1="108.58" y1="288.17" x2="111.38" y2="288.17" stroke="#2020b0" stroke-width="0.8"/>
<line x1="108.58" y1="291.17" x2="111.38" y2="291.17" stroke="#2020b0" stroke-width="0.8"/>
<polygon points="109.98,291.87 107.78,287.77 112.18,287.77" fill="#2020b0"/>
<line x1="117.96" y1="288.46" x2="117.96" y2="291.46" stroke="#2020b0" stroke-width="0.8"/>
<line x1="116.56" y1="288.46" x2="119.36" y2="288.46" stroke="#2020b0" stroke-width="0.8"/>
<line x1="116.56" y1="291.46" x2="119.36" y2="291.46" stroke="#2020b0" stroke-width="0.8"/>
<polygon points="117.96,292.16 115.76,288.06 120.16,288.06" fill="#2020b0"/>
<line x1="125.94" y1="288.46" x2="125.94" y2="291.46" stroke="#2020b0" stroke-width="0.8"/>
<line x1="124.54" y1="288.46" x2="127.34" y2="288.46" stroke="#2020b0" stroke-width="0.8"/>
<line x1="124.54" y1="291.46" x2="127.34" y2="291.46" stroke="#2020b0" stroke-width="0.8"/>
<polygon points="125.94,292.16 123.74,288.06 128.14,288.06" fill="#2020b0"/>
<line x1="133.92" y1="288.46" x2="133.92" y2="291.46" stroke="#2020b0" stroke-width="0.8"/>
<line x1="132.52" y1="288.46" x2="135.32" y2="288.46" stroke="#2020b0" stroke-width="0.8"/>
<line x1="132.52" y1="291.46" x2="135.32" y2="291.46" stroke="#2020b0" stroke-width="0.8"/>
<polygon points="133.92,292.16 131.72,288.06 136.12,288.06" fill="#2020b0"/>
<line x1="141.90" y1="288.75" x2="141.90" y2="291.75" stroke="#2020b0" stroke-width="0.8"/>
<line x1="140.50" y1="288.75" x2="143.30" y2="288.75" stroke="#2020b0" stroke-width="0.8"/>
<line x1="140.50" y1="291.75" x2="143.30" y2="291.75" stroke="#2020b0" stroke-width="0.8"/>
<polygon points="141.90,292.45 139.70,288.35 144.10,288.35" fill="#2020b0"/>
<line x1="149.88" y1="288.75" x2="149.88" y2="291.75" stroke="#2020b0" stroke-width="0.8"/>
<line x1="148.48" y1="288.75" x2="151.28" y2="288.75" stroke="#2020b0" stroke-width="0.8"/>
<line x1="148.48" y1="291.75" x2="151.28" y2="291.75" stroke="#2020b0" stroke-width="0.8"/>
<polygon points="149.88,292.45 147.68,288.35 152.08,288.35" fill="#2020b0"/>
<line x1="157.86" y1="288.46" x2="157.86" y2="291.46" stroke="#2020b0" stroke-width="0.8"/>
<line x1="156.46" y1="288.46" x2="159.26" y2="288.46" stroke="#2020b0" stroke-width="0.8"/>
<line x1="156.46" y1="291.46" x2="159.26" y2="291.46" stroke="#2020b0" stroke-width="0.8"/>
<polygon points="157.86,292.16 155.66,288.06 160.06,288.06" fill="#2020b0"/>
<line x1="165.84" y1="288.46" x2="165.84" y2="291.46" stroke="#2020b0" stroke-width="0.8"/>
<line x1="164.44" y1="288.46" x2="167.24" y2="288.46" stroke="#2020b0" stroke-width="0.8"/>
<line x1="164.44" y1="291.46" x2="167.24" y2="291.46" stroke="#2020b0" stroke-width="0.8"/>
<polygon points="165.84,292.16 163.64,288.06 168.04,288.06" fill="#2020b0"/>
<line x1="173.82" y1="288.75" x2="173.82" y2="291.75" stroke="#2020b0" stroke-width="0.8"/>
<line x1="172.42" y1="288.75" x2="175.22" y2="288.75" stroke="#2020b0" stroke-width="0.8"/>
<line x1="172.42" y1="291.75" x2="175.22" y2="291.75" stroke="#2020b0" stroke-width="0.8"/>
<polygon points="173.82,292.45 171.62,288.35 176.02,288.35" fill="#2020b0"/>
<line x1="181.80" y1="288.75" x2="181.80" y2="291.75" stroke="#2020b0" stroke-width="0.8"/>
<line x1="180.40" y1="288.75" x2="183.20" y2="288.75" stroke="#2020b0" stroke-width="0.8"/>
<line x1="180.40" y1="291.75" x2="183.20" y2="291.75" stroke="#2020b0" stroke-width="0.8"/>
<polygon points="181.80,292.45 179.60,288.35 184.00,288.35" fill="#2020b0"/>
<line x1="62.10" y1="290.67" x2="62.10" y2="293.88" stroke="#a020c0" stroke-width="0.8"/>
<line x1="60.70" y1="290.67" x2="63.50" y2="290.67" stroke="#a020c0" stroke-width="0.8"/>
<line x1="60.70" y1="293.88" x2="63.50" y2="293.88" stroke="#a020c0" stroke-width="0.8"/>
<circle cx="62.10" cy="292.27" r="1.90" fill="#a020c0"/>
<line x1="70.08" y1="290.10" x2="70.08" y2="293.30" stroke="#a020c0" stroke-width="0.8"/>
<line x1="68.68" y1="290.10" x2="71.48" y2="290.10" stroke="#a020c0" stroke-width="0.8"/>
<line x1="68.68" y1="293.30" x2="71.48" y2="293.30" stroke="#a020c0" stroke-width="0.8"/>
<circle cx="70.08" cy="291.70" r="1.90" fill="#a020c0"/>
<line x1="78.06" y1="289.81" x2="78.06" y2="293.01" stroke="#a020c0" stroke-width="0.8"/>
<line x1="76.66" y1="289.81" x2="79.46" y2="289.81" stroke="#a020c0" stroke-width="0.8"/>
<line x1="76.66" y1="293.01" x2="79.46" y2="293.01" stroke="#a020c0" stroke-width="0.8"/>
<circle cx="78.06" cy="291.41" r="1.90" fill="#a020c0"/>
<line x1="86.04" y1="289.52" x2="86.04" y2="292.72" stroke="#a020c0" stroke-width="0.8"/>
<line x1="84.64" y1="289.52" x2="87.44" y2="289.52" stroke="#a020c0" stroke-width="0.8"/>
<line x1="84.64" y1="292.72" x2="87.44" y2="292.72" stroke="#a020c0" stroke-width="0.8"/>
<circle cx="86.04" cy="291.12" r="1.90" fill="#a020c0"/>
<line x1="94.02" y1="289.23" x2="94.02" y2="292.43" stroke="#a020c0" stroke-width="0.8"/>
<line x1="92.62" y1="289.23" x2="95.42" y2="289.23" stroke="#a020c0" stroke-width="0.8"/>
<line x1="92.62" y1="292.43" x2="95.42" y2="292.43" stroke="#a020c0" stroke-width="0.8"/>
<circle cx="94.02" cy="290.83" r="1.90" fill="#a020c0"/>
<line x1="102.00" y1="288.94" x2="102.00" y2="292.14" stroke="#a020c0" stroke-width="0.8"/>
<line x1="100.60" y1="288.94" x2="103.40" y2="288.94" stroke="#a020c0" stroke-width="0.8"/>
<line x1="100.60" y1="292.14" x2="103.40" y2="292.14" stroke="#a020c0" stroke-width="0.8"/>
<circle cx="102.00" cy="290.54" r="1.90" fill="#a020c0"/>
<line x1="109.98" y1="288.94" x2="109.98" y2="292.14" stroke="#a020c0" stroke-width="0.8"/>
<line x1="108.58" y1="288.94" x2="111.38" y2="288.94" stroke="#a020c0" stroke-width="0.8"/>
<line x1="108.58" y1="292.14" x2="111.38" y2="292.14" stroke="#a020c0" stroke-width="0.8"/>
<circle cx="109.98" cy="290.54" r="1.90" fill="#a020c0"/>
<line x1="117.96" y1="288.94" x2="117.96" y2="292.14" stroke="#a020c0" stroke-width="0.8"/>
<line x1="116.56" y1="288.94" x2="119.36" y2="288.94" stroke="#a020c0" stroke-width="0.8"/>
<line x1="116.56" y1="292.14" x2="119.36" y2="292.14" stroke="#a020c0" stroke-width="0.8"/>
<circle cx="117.96" cy="290.54" r="1.90" fill="#a020c0"/>
<line x1="125.94" y1="289.23" x2="125.94" y2="292.43" stroke="#a020c0" stroke-width="0.8"/>
<line x1="124.54" y1="289.23" x2="127.34" y2="289.23" stroke="#a020c0" stroke-width="0.8"/>
<line x1="124.54" y1="292.43" x2="127.34" y2="292.43" stroke="#a020c0" stroke-width="0.8"/>
<circle cx="125.94" cy="290.83" r="1.90" fill="#a020c0"/>
<line x1="133.92" y1="289.23" x2="133.92" y2="292.43" stroke="#a020c0" stroke-width="0.8"/>
<line x1="132.52" y1="289.23" x2="135.32" y2="289.23" stroke="#a020c0" stroke-width="0.8"/>
<line x1="132.52" y1="292.43" x2="135.32" y2="292.43" stroke="#a020c0" stroke-width="0.8"/>
<circle cx="133.92" cy="290.83" r="1.90" fill="#a020c0"/>
<line x1="141.90" y1="289.52" x2="141.90" y2="292.72" stroke="#a020c0" stroke-width="0.8"/>
<line x1="140.50" y1="289.52" x2="143.30" y2="289.52" stroke="#a020c0" stroke-width="0.8"/>
<line x1="140.50" y1="292.72" x2="143.30" y2="292.72" stroke="#a020c0" stroke-width="0.8"/>
<circle cx="141.90" cy="291.12" r="1.90" fill="#a020c0"/>
<line x1="149.88" y1="289.52" x2="149.88" y2="292.72" stroke="#a020c0" stroke-width="0.8"/>
<line x1="148.48" y1="289.52" x2="151.28" y2="289.52" stroke="#a020c0" stroke-width="0.8"/>
<line x1="148.48" y1="292.72" x2="151.28" y2="292.72" stroke="#a020c0" stroke-width="0.8"/>
<circle cx="149.88" cy="291.12" r="1.90" fill="#a020c0"/>
<line x1="157.86" y1="289.23" x2="157.86" y2="292.43" stroke="#a020c0" stroke-width="0.8"/>
<line x1="156.46" y1="289.23" x2="159.26" y2="289.23" stroke="#a020c0" stroke-width="0.8"/>
<line x1="156.46" y1="292.43" x2="159.26" y2="292.43" stroke="#a020c0" stroke-width="0.8"/>
<circle cx="157.86" cy="290.83" r="1.90" fill="#a020c0"/>
<line x1="165.84" y1="289.23" x2="165.84" y2="292.43" stroke="#a020c0" stroke-width="0.8"/>
<line x1="164.44" y1="289.23" x2="167.24" y2="289.23" stroke="#a020c0" stroke-width="0.8"/>
<line x1="164.44" y1="292.43" x2="167.24" y2="292.43" stroke="#a020c0" stroke-width="0.8"/>
<circle cx="165.84" cy="290.83" r="1.90" fill="#a020c0"/>
<line x1="173.82" y1="289.52" x2="173.82" y2="292.72" stroke="#a020c0" stroke-width="0.8"/>
<line x1="172.42" y1="289.52" x2="175.22" y2="289.52" stroke="#a020c0" stroke-width="0.8"/>
<line x1="172.42" y1="292.72" x2="175.22" y2="292.72" stroke="#a020c0" stroke-width="0.8"/>
<circle cx="173.82" cy="291.12" r="1.90" fill="#a020c0"/>
<line x1="181.80" y1="289.52" x2="181.80" y2="292.72" stroke="#a020c0" stroke-width="0.8"/>
<line x1="180.40" y1="289.52" x2="183.20" y2="289.52" stroke="#a020c0" stroke-width="0.8"/>
<line x1="180.40" y1="292.72" x2="183.20" y2="292.72" stroke="#a020c0" stroke-width="0.8"/>
<circle cx="181.80" cy="291.12" r="1.90" fill="#a020c0"/>
<line x1="65.4" y1="243.30" x2="76" y2="243.30" stroke="#111" stroke-width="1.2" stroke-dasharray="1.8,1.6"/>
<rect x="68.70" y="241.40" width="3.80" height="3.80" fill="#e03030" stroke="#c02838" stroke-width="0.4"/>
<text x="80.30" y="245.89" font-size="7.2" text-anchor="start" font-weight="normal" font-style="normal" fill="#000" stroke="#000" stroke-width="0.05">Usp9x</text>
<line x1="65.4" y1="253.60" x2="76" y2="253.60" stroke="#111" stroke-width="1.2" stroke-dasharray="1.8,1.6"/>
<polygon points="70.60,251.40 68.40,255.50 72.80,255.50" fill="#30d030"/>
<text x="80.30" y="256.19" font-size="7.2" text-anchor="start" font-weight="normal" font-style="normal" fill="#000" stroke="#000" stroke-width="0.05">Usp9x + WP1130</text>
<line x1="65.4" y1="263.50" x2="76" y2="263.50" stroke="#111" stroke-width="1.2" stroke-dasharray="1.8,1.6"/>
<polygon points="70.60,265.70 68.40,261.60 72.80,261.60" fill="#2020b0"/>
<text x="80.30" y="266.09" font-size="7.2" text-anchor="start" font-weight="normal" font-style="normal" fill="#000" stroke="#000" stroke-width="0.05">Usp9x + NEM</text>
<line x1="65.4" y1="273.80" x2="76" y2="273.80" stroke="#111" stroke-width="1.2" stroke-dasharray="1.8,1.6"/>
<circle cx="70.60" cy="273.80" r="1.90" fill="#a020c0"/>
<text x="80.30" y="276.39" font-size="7.2" text-anchor="start" font-weight="normal" font-style="normal" fill="#000" stroke="#000" stroke-width="0.05">IgG</text>
<text x="252.50" y="234.30" font-size="14" text-anchor="start" font-weight="bold" font-style="normal" fill="#000" stroke="#000" stroke-width="0.0">D</text>
<text x="294.70" y="256.34" font-size="10.4" text-anchor="start" font-weight="normal" font-style="normal" fill="#000" stroke="#000" stroke-width="0.1">Hours after 5 µM WP1130</text>
<text x="302.00" y="270.87" font-size="10.2" text-anchor="middle" font-weight="normal" font-style="normal" fill="#000" stroke="#000" stroke-width="0.1">0</text>
<text x="317.80" y="270.87" font-size="10.2" text-anchor="middle" font-weight="normal" font-style="normal" fill="#000" stroke="#000" stroke-width="0.1">1</text>
<text x="333.00" y="270.87" font-size="10.2" text-anchor="middle" font-weight="normal" font-style="normal" fill="#000" stroke="#000" stroke-width="0.1">2</text>
<text x="347.50" y="270.87" font-size="10.2" text-anchor="middle" font-weight="normal" font-style="normal" fill="#000" stroke="#000" stroke-width="0.1">4</text>
<text x="363.40" y="270.87" font-size="10.2" text-anchor="middle" font-weight="normal" font-style="normal" fill="#000" stroke="#000" stroke-width="0.1">8</text>
<text x="388.00" y="271.07" font-size="10.2" text-anchor="middle" font-weight="normal" font-style="normal" fill="#000" stroke="#000" stroke-width="0.1">0</text>
<text x="402.00" y="271.07" font-size="10.2" text-anchor="middle" font-weight="normal" font-style="normal" fill="#000" stroke="#000" stroke-width="0.1">4</text>
<rect x="294.70" y="274.00" width="78.80" height="13.30" fill="#ebebeb"/>
<rect x="294.70" y="293.60" width="78.80" height="13.00" fill="#ebebeb"/>
<rect x="295.00" y="278.90" width="14.00" height="4.20" rx="2.10" fill="#000000" filter="url(#b1)"/>
<rect x="310.80" y="279.00" width="14.00" height="4.00" rx="2.00" fill="#070707" filter="url(#b1)"/>
<rect x="326.00" y="279.40" width="14.00" height="3.20" rx="1.60" fill="#2a2a2a" filter="url(#b1)"/>
<rect x="340.50" y="279.50" width="14.00" height="3.00" rx="1.50" fill="#767676" filter="url(#b1)"/>
<rect x="356.40" y="279.50" width="14.00" height="3.00" rx="1.50" fill="#929292" filter="url(#b1)"/>
<rect x="294.70" y="298.15" width="14.60" height="5.50" rx="2.75" fill="#000000" filter="url(#b1)"/>
<rect x="310.50" y="298.15" width="14.60" height="5.50" rx="2.75" fill="#000000" filter="url(#b1)"/>
<rect x="325.70" y="298.15" width="14.60" height="5.50" rx="2.75" fill="#000000" filter="url(#b1)"/>
<rect x="340.20" y="298.15" width="14.60" height="5.50" rx="2.75" fill="#050505" filter="url(#b1)"/>
<rect x="356.10" y="298.15" width="14.60" height="5.50" rx="2.75" fill="#232323" filter="url(#b1)"/>
<line x1="294.70" y1="309.50" x2="373.50" y2="309.50" stroke="#555" stroke-width="0.9"/>
<text x="334.30" y="321.78" font-size="10.5" text-anchor="middle" font-weight="normal" font-style="normal" fill="#000" stroke="#000" stroke-width="0.1">K562</text>
<rect x="380.60" y="274.40" width="30.70" height="12.60" fill="#ebebeb"/>
<rect x="380.60" y="293.50" width="30.70" height="12.50" fill="#ebebeb"/>
<rect x="381.00" y="278.30" width="14.00" height="5.00" rx="2.50" fill="#000000" filter="url(#b1)"/>
<rect x="396.00" y="278.80" width="13.00" height="4.00" rx="2.00" fill="#131313" filter="url(#b1)"/>
<rect x="381.00" y="298.40" width="14.00" height="5.00" rx="2.50" fill="#000000" filter="url(#b1)"/>
<rect x="396.00" y="298.40" width="14.00" height="5.00" rx="2.50" fill="#000000" filter="url(#b1)"/>
<line x1="380.60" y1="309.30" x2="411.30" y2="309.30" stroke="#555" stroke-width="0.9"/>
<text x="397.50" y="321.58" font-size="10.5" text-anchor="middle" font-weight="normal" font-style="normal" fill="#000" stroke="#000" stroke-width="0.1">K562R</text>
<line x1="413.40" y1="281.40" x2="420.80" y2="281.40" stroke="#000" stroke-width="0.8"/>
<text x="424.00" y="285.00" font-size="10" text-anchor="start" font-weight="normal" font-style="normal" fill="#000" stroke="#000" stroke-width="0.1">Mcl-1</text>
<line x1="413.40" y1="300.90" x2="420.80" y2="300.90" stroke="#000" stroke-width="0.8"/>
<text x="424.00" y="304.54" font-size="10.1" text-anchor="start" font-weight="normal" font-style="normal" fill="#000" stroke="#000" stroke-width="0.1">Actin</text>
<text x="2.60" y="349.60" font-size="14" text-anchor="start" font-weight="bold" font-style="normal" fill="#000" stroke="#000" stroke-width="0.0">E</text>
<text x="90.00" y="369.13" font-size="8.7" text-anchor="middle" font-weight="normal" font-style="italic" fill="#000" stroke="#000" stroke-width="0.1">In vivo</text>
<line x1="40.00" y1="373.50" x2="132.50" y2="373.50" stroke="#333" stroke-width="0.8"/>
<text x="157.90" y="369.13" font-size="8.7" text-anchor="middle" font-weight="normal" font-style="italic" fill="#000" stroke="#000" stroke-width="0.1">In vitro</text>
<line x1="140.50" y1="373.50" x2="173.75" y2="373.50" stroke="#333" stroke-width="0.8"/>
<text x="51.53" y="419.00" font-size="8.7" text-anchor="start" font-weight="normal" font-style="normal" fill="#000" stroke="#000" stroke-width="0.1" transform="rotate(-90 51.53 419.00)">Control</text>
<text x="71.13" y="419.00" font-size="8.7" text-anchor="start" font-weight="normal" font-style="normal" fill="#000" stroke="#000" stroke-width="0.1" transform="rotate(-90 71.13 419.00)">Imatinib</text>
<text x="91.13" y="419.00" font-size="8.7" text-anchor="start" font-weight="normal" font-style="normal" fill="#000" stroke="#000" stroke-width="0.1" transform="rotate(-90 91.13 419.00)">Dasatinib</text>
<text x="110.63" y="419.00" font-size="8.7" text-anchor="start" font-weight="normal" font-style="normal" fill="#000" stroke="#000" stroke-width="0.1" transform="rotate(-90 110.63 419.00)">TG101209</text>
<text x="130.63" y="419.00" font-size="8.7" text-anchor="start" font-weight="normal" font-style="normal" fill="#000" stroke="#000" stroke-width="0.1" transform="rotate(-90 130.63 419.00)">WP1130</text>
<text x="151.13" y="419.00" font-size="8.7" text-anchor="start" font-weight="normal" font-style="normal" fill="#000" stroke="#000" stroke-width="0.1" transform="rotate(-90 151.13 419.00)">WP1130</text>
<text x="169.13" y="419.00" font-size="8.7" text-anchor="start" font-weight="normal" font-style="normal" fill="#000" stroke="#000" stroke-width="0.1" transform="rotate(-90 169.13 419.00)">Control</text>
<rect x="40.00" y="423.75" width="134.50" height="12.50" fill="#ebebeb"/>
<rect x="40.00" y="442.00" width="134.50" height="13.00" fill="#ebebeb"/>
<rect x="40.00" y="459.00" width="134.50" height="12.00" fill="#ebebeb"/>
<rect x="40.60" y="427.75" width="15.60" height="5.50" rx="2.75" fill="#000000" filter="url(#b1)"/>
<rect x="60.20" y="428.00" width="15.60" height="5.00" rx="2.50" fill="#000000" filter="url(#b1)"/>
<rect x="80.20" y="428.00" width="15.60" height="5.00" rx="2.50" fill="#0c0c0c" filter="url(#b1)"/>
<rect x="99.70" y="428.25" width="15.60" height="4.50" rx="2.25" fill="#181818" filter="url(#b1)"/>
<rect x="119.70" y="429.50" width="15.60" height="2.00" rx="1.00" fill="#cfcfcf" filter="url(#b1)"/>
<rect x="140.20" y="429.00" width="15.60" height="3.00" rx="1.50" fill="#525252" filter="url(#b1)"/>
<rect x="158.20" y="427.00" width="15.60" height="7.00" rx="3.50" fill="#000000" filter="url(#b1)"/>
<rect x="40.60" y="447.25" width="15.60" height="3.50" rx="1.75" fill="#000000" filter="url(#b1)"/>
<rect x="60.20" y="447.25" width="15.60" height="3.50" rx="1.75" fill="#525252" filter="url(#b1)"/>
<rect x="80.20" y="447.25" width="15.60" height="3.50" rx="1.75" fill="#6a6a6a" filter="url(#b1)"/>
<rect x="99.70" y="447.25" width="15.60" height="3.50" rx="1.75" fill="#2f2f2f" filter="url(#b1)"/>
<rect x="119.70" y="447.25" width="15.60" height="3.50" rx="1.75" fill="#525252" filter="url(#b1)"/>
<rect x="140.20" y="447.25" width="15.60" height="3.50" rx="1.75" fill="#000000" filter="url(#b1)"/>
<rect x="158.20" y="447.25" width="15.60" height="3.50" rx="1.75" fill="#0c0c0c" filter="url(#b1)"/>
<rect x="40.40" y="462.75" width="16.00" height="4.50" rx="2.25" fill="#000000" filter="url(#b1)"/>
<rect x="60.00" y="462.75" width="16.00" height="4.50" rx="2.25" fill="#000000" filter="url(#b1)"/>
<rect x="80.00" y="462.75" width="16.00" height="4.50" rx="2.25" fill="#000000" filter="url(#b1)"/>
<rect x="99.50" y="462.75" width="16.00" height="4.50" rx="2.25" fill="#000000" filter="url(#b1)"/>
<rect x="119.50" y="462.75" width="16.00" height="4.50" rx="2.25" fill="#000000" filter="url(#b1)"/>
<rect x="140.00" y="462.75" width="16.00" height="4.50" rx="2.25" fill="#000000" filter="url(#b1)"/>
<rect x="158.00" y="462.75" width="16.00" height="4.50" rx="2.25" fill="#000000" filter="url(#b1)"/>
<line x1="176.00" y1="430.20" x2="183.00" y2="430.20" stroke="#000" stroke-width="0.8"/>
<text x="186.25" y="433.30" font-size="8.6" text-anchor="start" font-weight="normal" font-style="normal" fill="#000" stroke="#000" stroke-width="0.1" textLength="66.6" lengthAdjust="spacingAndGlyphs">HA-labeled Usp9x</text>
<line x1="176.00" y1="449.00" x2="183.00" y2="449.00" stroke="#000" stroke-width="0.8"/>
<text x="186.25" y="452.10" font-size="8.6" text-anchor="start" font-weight="normal" font-style="normal" fill="#000" stroke="#000" stroke-width="0.1" textLength="24.5" lengthAdjust="spacingAndGlyphs">Usp9x</text>
<line x1="176.00" y1="465.00" x2="183.00" y2="465.00" stroke="#000" stroke-width="0.8"/>
<text x="186.25" y="468.10" font-size="8.6" text-anchor="start" font-weight="normal" font-style="normal" fill="#000" stroke="#000" stroke-width="0.1" textLength="19.5" lengthAdjust="spacingAndGlyphs">Actin</text>
<text x="251.50" y="350.00" font-size="14" text-anchor="start" font-weight="bold" font-style="normal" fill="#000" stroke="#000" stroke-width="0.0">F</text>
<text x="352.70" y="404.00" font-size="8.6" text-anchor="start" font-weight="normal" font-style="normal" fill="#000" stroke="#000" stroke-width="0.1" transform="rotate(-90 352.70 404.00)">+ Imatinib</text>
<text x="391.80" y="403.60" font-size="8.6" text-anchor="start" font-weight="normal" font-style="normal" fill="#000" stroke="#000" stroke-width="0.1" transform="rotate(-90 391.80 403.60)">+ Dasatinib</text>
<text x="430.10" y="403.60" font-size="8.6" text-anchor="start" font-weight="normal" font-style="normal" fill="#000" stroke="#000" stroke-width="0.1" transform="rotate(-90 430.10 403.60)">+ TG101209</text>
<line x1="332.00" y1="408.00" x2="365.00" y2="408.00" stroke="#333" stroke-width="0.8"/>
<line x1="369.80" y1="408.00" x2="404.60" y2="408.00" stroke="#333" stroke-width="0.8"/>
<line x1="409.00" y1="408.00" x2="443.50" y2="408.00" stroke="#333" stroke-width="0.8"/>
<line x1="298.70" y1="416.00" x2="305.30" y2="416.00" stroke="#000" stroke-width="1.0"/>
<line x1="317.60" y1="416.00" x2="324.00" y2="416.00" stroke="#000" stroke-width="1.0"/>
<line x1="320.80" y1="412.80" x2="320.80" y2="419.20" stroke="#000" stroke-width="1.0"/>
<line x1="336.90" y1="416.00" x2="343.50" y2="416.00" stroke="#000" stroke-width="1.0"/>
<line x1="354.50" y1="416.00" x2="360.90" y2="416.00" stroke="#000" stroke-width="1.0"/>
<line x1="357.70" y1="412.80" x2="357.70" y2="419.20" stroke="#000" stroke-width="1.0"/>
<line x1="375.40" y1="416.00" x2="382.00" y2="416.00" stroke="#000" stroke-width="1.0"/>
<line x1="394.20" y1="416.00" x2="400.60" y2="416.00" stroke="#000" stroke-width="1.0"/>
<line x1="397.40" y1="412.80" x2="397.40" y2="419.20" stroke="#000" stroke-width="1.0"/>
<line x1="413.20" y1="416.00" x2="419.80" y2="416.00" stroke="#000" stroke-width="1.0"/>
<line x1="432.60" y1="416.00" x2="439.00" y2="416.00" stroke="#000" stroke-width="1.0"/>
<line x1="435.80" y1="412.80" x2="435.80" y2="419.20" stroke="#000" stroke-width="1.0"/>
<text x="447.90" y="419.35" font-size="9.3" text-anchor="start" font-weight="normal" font-style="normal" fill="#000" stroke="#000" stroke-width="0.1" textLength="55.4" lengthAdjust="spacingAndGlyphs">5 µM WP1130</text>
<rect x="293.60" y="425.40" width="149.90" height="14.30" fill="#ebebeb"/>
<rect x="293.60" y="444.20" width="149.90" height="13.50" fill="#ebebeb"/>
<rect x="294.00" y="429.80" width="16.00" height="5.00" rx="2.50" fill="#000000" filter="url(#b1)"/>
<rect x="312.80" y="431.30" width="16.00" height="2.00" rx="1.00" fill="#cfcfcf" filter="url(#b1)"/>
<rect x="332.20" y="430.80" width="16.00" height="3.00" rx="1.50" fill="#6a6a6a" filter="url(#b1)"/>
<rect x="370.70" y="430.80" width="16.00" height="3.00" rx="1.50" fill="#6a6a6a" filter="url(#b1)"/>
<rect x="408.50" y="428.30" width="16.00" height="8.00" rx="4.00" fill="#000000" filter="url(#b1)"/>
<rect x="427.80" y="431.05" width="16.00" height="2.50" rx="1.25" fill="#bcbcbc" filter="url(#b1)"/>
<rect x="341.00" y="430.70" width="7.00" height="3.20" rx="1.60" fill="#181818" filter="url(#b1)"/>
<rect x="380.00" y="430.70" width="7.00" height="3.20" rx="1.60" fill="#000000" filter="url(#b1)"/>
<rect x="293.50" y="449.70" width="17.00" height="5.00" rx="2.50" fill="#636363" filter="url(#b1)"/>
<rect x="312.30" y="449.70" width="17.00" height="5.00" rx="2.50" fill="#717171" filter="url(#b1)"/>
<rect x="331.70" y="449.70" width="17.00" height="5.00" rx="2.50" fill="#636363" filter="url(#b1)"/>
<rect x="349.20" y="449.70" width="17.00" height="5.00" rx="2.50" fill="#717171" filter="url(#b1)"/>
<rect x="370.20" y="449.70" width="17.00" height="5.00" rx="2.50" fill="#464646" filter="url(#b1)"/>
<rect x="388.90" y="449.70" width="17.00" height="5.00" rx="2.50" fill="#6a6a6a" filter="url(#b1)"/>
<rect x="408.00" y="449.70" width="17.00" height="5.00" rx="2.50" fill="#3b3b3b" filter="url(#b1)"/>
<rect x="427.30" y="449.70" width="17.00" height="5.00" rx="2.50" fill="#525252" filter="url(#b1)"/>
<line x1="447.90" y1="432.40" x2="453.60" y2="432.40" stroke="#000" stroke-width="0.8"/>
<text x="456.50" y="435.93" font-size="9.8" text-anchor="start" font-weight="normal" font-style="normal" fill="#000" stroke="#000" stroke-width="0.1">Mcl-1</text>
<line x1="447.90" y1="452.60" x2="453.60" y2="452.60" stroke="#000" stroke-width="0.8"/>
<text x="456.50" y="456.13" font-size="9.8" text-anchor="start" font-weight="normal" font-style="normal" fill="#000" stroke="#000" stroke-width="0.1">Actin</text>
<text x="2.00" y="497.20" font-size="14" text-anchor="start" font-weight="bold" font-style="normal" fill="#000" stroke="#000" stroke-width="0.0">G</text>
<line x1="63.60" y1="586.76" x2="247.50" y2="586.76" stroke="#c8c8c8" stroke-width="0.9"/>
<line x1="63.60" y1="563.33" x2="247.50" y2="563.33" stroke="#c8c8c8" stroke-width="0.9"/>
<line x1="63.60" y1="539.89" x2="247.50" y2="539.89" stroke="#c8c8c8" stroke-width="0.9"/>
<line x1="63.60" y1="516.45" x2="247.50" y2="516.45" stroke="#c8c8c8" stroke-width="0.9"/>
<line x1="63.60" y1="497.30" x2="63.60" y2="610.70" stroke="#555" stroke-width="1.0"/>
<line x1="63.60" y1="610.20" x2="247.50" y2="610.20" stroke="#222" stroke-width="1.1"/>
<line x1="61.10" y1="610.20" x2="63.60" y2="610.20" stroke="#444" stroke-width="0.9"/>
<text x="58.60" y="613.08" font-size="8.0" text-anchor="end" font-weight="bold" font-style="italic" fill="#222" stroke="#222" stroke-width="0.0" textLength="3.0" lengthAdjust="spacingAndGlyphs">0</text>
<line x1="61.10" y1="586.76" x2="63.60" y2="586.76" stroke="#444" stroke-width="0.9"/>
<text x="58.60" y="589.64" font-size="8.0" text-anchor="end" font-weight="bold" font-style="italic" fill="#222" stroke="#222" stroke-width="0.0" textLength="5.6" lengthAdjust="spacingAndGlyphs">25</text>
<line x1="61.10" y1="563.33" x2="63.60" y2="563.33" stroke="#444" stroke-width="0.9"/>
<text x="58.60" y="566.21" font-size="8.0" text-anchor="end" font-weight="bold" font-style="italic" fill="#222" stroke="#222" stroke-width="0.0" textLength="5.6" lengthAdjust="spacingAndGlyphs">50</text>
<line x1="61.10" y1="539.89" x2="63.60" y2="539.89" stroke="#444" stroke-width="0.9"/>
<text x="58.60" y="542.77" font-size="8.0" text-anchor="end" font-weight="bold" font-style="italic" fill="#222" stroke="#222" stroke-width="0.0" textLength="5.6" lengthAdjust="spacingAndGlyphs">75</text>
<line x1="61.10" y1="516.45" x2="63.60" y2="516.45" stroke="#444" stroke-width="0.9"/>
<text x="58.60" y="519.33" font-size="8.0" text-anchor="end" font-weight="bold" font-style="italic" fill="#222" stroke="#222" stroke-width="0.0" textLength="8.8" lengthAdjust="spacingAndGlyphs">100</text>
<line x1="63.60" y1="610.20" x2="63.60" y2="612.40" stroke="#222" stroke-width="0.9"/>
<text x="67.00" y="621.80" font-size="7.2" text-anchor="end" font-weight="bold" font-style="italic" fill="#222" stroke="#222" stroke-width="0.0" transform="rotate(-63 67.00 621.80)">0</text>
<line x1="81.79" y1="610.20" x2="81.79" y2="612.40" stroke="#222" stroke-width="0.9"/>
<text x="85.19" y="621.80" font-size="7.2" text-anchor="end" font-weight="bold" font-style="italic" fill="#222" stroke="#222" stroke-width="0.0" transform="rotate(-63 85.19 621.80)">0.019</text>
<line x1="99.98" y1="610.20" x2="99.98" y2="612.40" stroke="#222" stroke-width="0.9"/>
<text x="103.38" y="621.80" font-size="7.2" text-anchor="end" font-weight="bold" font-style="italic" fill="#222" stroke="#222" stroke-width="0.0" transform="rotate(-63 103.38 621.80)">0.039</text>
<line x1="118.17" y1="610.20" x2="118.17" y2="612.40" stroke="#222" stroke-width="0.9"/>
<text x="121.57" y="621.80" font-size="7.2" text-anchor="end" font-weight="bold" font-style="italic" fill="#222" stroke="#222" stroke-width="0.0" transform="rotate(-63 121.57 621.80)">0.078</text>
<line x1="136.36" y1="610.20" x2="136.36" y2="612.40" stroke="#222" stroke-width="0.9"/>
<text x="139.76" y="621.80" font-size="7.2" text-anchor="end" font-weight="bold" font-style="italic" fill="#222" stroke="#222" stroke-width="0.0" transform="rotate(-63 139.76 621.80)">0.156</text>
<line x1="154.55" y1="610.20" x2="154.55" y2="612.40" stroke="#222" stroke-width="0.9"/>
<text x="157.95" y="621.80" font-size="7.2" text-anchor="end" font-weight="bold" font-style="italic" fill="#222" stroke="#222" stroke-width="0.0" transform="rotate(-63 157.95 621.80)">0.312</text>
<line x1="172.74" y1="610.20" x2="172.74" y2="612.40" stroke="#222" stroke-width="0.9"/>
<text x="176.14" y="621.80" font-size="7.2" text-anchor="end" font-weight="bold" font-style="italic" fill="#222" stroke="#222" stroke-width="0.0" transform="rotate(-63 176.14 621.80)">0.625</text>
<line x1="190.93" y1="610.20" x2="190.93" y2="612.40" stroke="#222" stroke-width="0.9"/>
<text x="194.33" y="621.80" font-size="7.2" text-anchor="end" font-weight="bold" font-style="italic" fill="#222" stroke="#222" stroke-width="0.0" transform="rotate(-63 194.33 621.80)">1.25</text>
<line x1="209.12" y1="610.20" x2="209.12" y2="612.40" stroke="#222" stroke-width="0.9"/>
<text x="212.52" y="621.80" font-size="7.2" text-anchor="end" font-weight="bold" font-style="italic" fill="#222" stroke="#222" stroke-width="0.0" transform="rotate(-63 212.52 621.80)">2.5</text>
<line x1="227.31" y1="610.20" x2="227.31" y2="612.40" stroke="#222" stroke-width="0.9"/>
<text x="230.71" y="621.80" font-size="7.2" text-anchor="end" font-weight="bold" font-style="italic" fill="#222" stroke="#222" stroke-width="0.0" transform="rotate(-63 230.71 621.80)">5</text>
<line x1="245.50" y1="610.20" x2="245.50" y2="612.40" stroke="#222" stroke-width="0.9"/>
<text x="248.90" y="621.80" font-size="7.2" text-anchor="end" font-weight="bold" font-style="italic" fill="#222" stroke="#222" stroke-width="0.0" transform="rotate(-63 248.90 621.80)">10</text>
<text x="147.60" y="649.88" font-size="6.6" text-anchor="middle" font-weight="bold" font-style="normal" fill="#222" stroke="#222" stroke-width="0.0" textLength="35.6" lengthAdjust="spacingAndGlyphs">Imatinib (µM)</text>
<text x="46.98" y="570.35" font-size="6.6" text-anchor="start" font-weight="bold" font-style="normal" fill="#222" stroke="#222" stroke-width="0.0" transform="rotate(-90 46.98 570.35)" textLength="39.7" lengthAdjust="spacingAndGlyphs">Survival %</text>
<path d="M63.60,516.92 C64.93,518.19 79.12,533.99 81.79,534.26 C84.46,534.54 97.31,521.36 99.98,520.67 C102.65,519.98 115.50,523.41 118.17,524.89 C120.84,526.37 133.69,537.83 136.36,540.83 C139.03,543.82 151.88,562.37 154.55,565.67 C157.22,568.97 170.07,583.51 172.74,585.83 C175.41,588.14 188.26,596.37 190.93,597.26 C193.60,598.16 206.45,597.99 209.12,598.01 C211.79,598.03 224.64,597.60 227.31,597.54 C229.98,597.49 244.17,597.28 245.50,597.26" fill="none" stroke="#1fb14a" stroke-width="2.3" stroke-linejoin="round"/>
<path d="M63.60,517.39 C64.93,518.11 79.12,526.51 81.79,527.23 C84.46,527.95 97.31,527.33 99.98,527.23 C102.65,527.13 115.50,525.69 118.17,525.83 C120.84,525.96 133.69,527.59 136.36,529.11 C139.03,530.62 151.88,543.48 154.55,546.45 C157.22,549.42 170.07,567.06 172.74,569.61 C175.41,572.16 188.26,579.97 190.93,581.23 C193.60,582.50 206.45,586.55 209.12,586.86 C211.79,587.16 224.64,585.43 227.31,585.36 C229.98,585.28 244.17,585.79 245.50,585.83" fill="none" stroke="#1a2f86" stroke-width="1.4" stroke-linejoin="round"/>
<path d="M63.60,517.39 C64.93,518.76 79.12,535.45 81.79,536.14 C84.46,536.83 97.31,527.31 99.98,526.76 C102.65,526.21 115.50,528.12 118.17,528.64 C120.84,529.15 133.69,532.11 136.36,533.79 C139.03,535.48 151.88,548.64 154.55,551.61 C157.22,554.57 170.07,571.78 172.74,574.20 C175.41,576.62 188.26,583.64 190.93,584.61 C193.60,585.58 206.45,587.28 209.12,587.42 C211.79,587.56 224.64,586.53 227.31,586.48 C229.98,586.43 244.17,586.74 245.50,586.76" fill="none" stroke="#e8101c" stroke-width="2.3" stroke-linejoin="round"/>
<rect x="62.60" y="515.92" width="2" height="2" fill="#1fb14a" transform="rotate(45 63.60 516.92)"/>
<rect x="80.79" y="533.26" width="2" height="2" fill="#1fb14a" transform="rotate(45 81.79 534.26)"/>
<rect x="98.98" y="519.67" width="2" height="2" fill="#1fb14a" transform="rotate(45 99.98 520.67)"/>
<rect x="117.17" y="523.89" width="2" height="2" fill="#1fb14a" transform="rotate(45 118.17 524.89)"/>
<rect x="135.36" y="539.83" width="2" height="2" fill="#1fb14a" transform="rotate(45 136.36 540.83)"/>
<rect x="153.55" y="564.67" width="2" height="2" fill="#1fb14a" transform="rotate(45 154.55 565.67)"/>
<rect x="171.74" y="584.83" width="2" height="2" fill="#1fb14a" transform="rotate(45 172.74 585.83)"/>
<rect x="189.93" y="596.26" width="2" height="2" fill="#1fb14a" transform="rotate(45 190.93 597.26)"/>
<rect x="208.12" y="597.01" width="2" height="2" fill="#1fb14a" transform="rotate(45 209.12 598.01)"/>
<rect x="226.31" y="596.54" width="2" height="2" fill="#1fb14a" transform="rotate(45 227.31 597.54)"/>
<rect x="244.50" y="596.26" width="2" height="2" fill="#1fb14a" transform="rotate(45 245.50 597.26)"/>
<rect x="62.60" y="516.39" width="2" height="2" fill="#1a2f86" transform="rotate(45 63.60 517.39)"/>
<rect x="80.79" y="526.23" width="2" height="2" fill="#1a2f86" transform="rotate(45 81.79 527.23)"/>
<rect x="98.98" y="526.23" width="2" height="2" fill="#1a2f86" transform="rotate(45 99.98 527.23)"/>
<rect x="117.17" y="524.83" width="2" height="2" fill="#1a2f86" transform="rotate(45 118.17 525.83)"/>
<rect x="135.36" y="528.11" width="2" height="2" fill="#1a2f86" transform="rotate(45 136.36 529.11)"/>
<rect x="153.55" y="545.45" width="2" height="2" fill="#1a2f86" transform="rotate(45 154.55 546.45)"/>
<rect x="171.74" y="568.61" width="2" height="2" fill="#1a2f86" transform="rotate(45 172.74 569.61)"/>
<rect x="189.93" y="580.23" width="2" height="2" fill="#1a2f86" transform="rotate(45 190.93 581.23)"/>
<rect x="208.12" y="585.86" width="2" height="2" fill="#1a2f86" transform="rotate(45 209.12 586.86)"/>
<rect x="226.31" y="584.36" width="2" height="2" fill="#1a2f86" transform="rotate(45 227.31 585.36)"/>
<rect x="244.50" y="584.83" width="2" height="2" fill="#1a2f86" transform="rotate(45 245.50 585.83)"/>
<rect x="62.60" y="516.39" width="2" height="2" fill="#e8101c" transform="rotate(45 63.60 517.39)"/>
<rect x="80.79" y="535.14" width="2" height="2" fill="#e8101c" transform="rotate(45 81.79 536.14)"/>
<rect x="98.98" y="525.76" width="2" height="2" fill="#e8101c" transform="rotate(45 99.98 526.76)"/>
<rect x="117.17" y="527.64" width="2" height="2" fill="#e8101c" transform="rotate(45 118.17 528.64)"/>
<rect x="135.36" y="532.79" width="2" height="2" fill="#e8101c" transform="rotate(45 136.36 533.79)"/>
<rect x="153.55" y="550.61" width="2" height="2" fill="#e8101c" transform="rotate(45 154.55 551.61)"/>
<rect x="171.74" y="573.20" width="2" height="2" fill="#e8101c" transform="rotate(45 172.74 574.20)"/>
<rect x="189.93" y="583.61" width="2" height="2" fill="#e8101c" transform="rotate(45 190.93 584.61)"/>
<rect x="208.12" y="586.42" width="2" height="2" fill="#e8101c" transform="rotate(45 209.12 587.42)"/>
<rect x="226.31" y="585.48" width="2" height="2" fill="#e8101c" transform="rotate(45 227.31 586.48)"/>
<rect x="244.50" y="585.76" width="2" height="2" fill="#e8101c" transform="rotate(45 245.50 586.76)"/>
<line x1="63.60" y1="513.39" x2="63.60" y2="521.39" stroke="#1a2f60" stroke-width="0.8"/>
<line x1="62.40" y1="513.39" x2="64.80" y2="513.39" stroke="#1a2f60" stroke-width="0.8"/>
<line x1="62.40" y1="521.39" x2="64.80" y2="521.39" stroke="#1a2f60" stroke-width="0.8"/>
<line x1="81.79" y1="529.33" x2="81.79" y2="537.33" stroke="#1a2f60" stroke-width="0.8"/>
<line x1="80.59" y1="529.33" x2="82.99" y2="529.33" stroke="#1a2f60" stroke-width="0.8"/>
<line x1="80.59" y1="537.33" x2="82.99" y2="537.33" stroke="#1a2f60" stroke-width="0.8"/>
<line x1="99.98" y1="523.76" x2="99.98" y2="529.76" stroke="#1a2f60" stroke-width="0.8"/>
<line x1="98.78" y1="523.76" x2="101.18" y2="523.76" stroke="#1a2f60" stroke-width="0.8"/>
<line x1="98.78" y1="529.76" x2="101.18" y2="529.76" stroke="#1a2f60" stroke-width="0.8"/>
<line x1="118.17" y1="523.70" x2="118.17" y2="531.70" stroke="#1a2f60" stroke-width="0.8"/>
<line x1="116.97" y1="523.70" x2="119.37" y2="523.70" stroke="#1a2f60" stroke-width="0.8"/>
<line x1="116.97" y1="531.70" x2="119.37" y2="531.70" stroke="#1a2f60" stroke-width="0.8"/>
<line x1="136.36" y1="527.58" x2="136.36" y2="531.58" stroke="#1a2f60" stroke-width="0.8"/>
<line x1="135.16" y1="527.58" x2="137.56" y2="527.58" stroke="#1a2f60" stroke-width="0.8"/>
<line x1="135.16" y1="531.58" x2="137.56" y2="531.58" stroke="#1a2f60" stroke-width="0.8"/>
<line x1="154.55" y1="545.33" x2="154.55" y2="551.33" stroke="#1a2f60" stroke-width="0.8"/>
<line x1="153.35" y1="545.33" x2="155.75" y2="545.33" stroke="#1a2f60" stroke-width="0.8"/>
<line x1="153.35" y1="551.33" x2="155.75" y2="551.33" stroke="#1a2f60" stroke-width="0.8"/>
<line x1="172.74" y1="568.83" x2="172.74" y2="572.83" stroke="#1a2f60" stroke-width="0.8"/>
<line x1="171.54" y1="568.83" x2="173.94" y2="568.83" stroke="#1a2f60" stroke-width="0.8"/>
<line x1="171.54" y1="572.83" x2="173.94" y2="572.83" stroke="#1a2f60" stroke-width="0.8"/>
<line x1="190.93" y1="581.01" x2="190.93" y2="585.01" stroke="#1a2f60" stroke-width="0.8"/>
<line x1="189.73" y1="581.01" x2="192.13" y2="581.01" stroke="#1a2f60" stroke-width="0.8"/>
<line x1="189.73" y1="585.01" x2="192.13" y2="585.01" stroke="#1a2f60" stroke-width="0.8"/>
<line x1="209.12" y1="583.76" x2="209.12" y2="589.76" stroke="#1a2f60" stroke-width="0.8"/>
<line x1="207.92" y1="583.76" x2="210.32" y2="583.76" stroke="#1a2f60" stroke-width="0.8"/>
<line x1="207.92" y1="589.76" x2="210.32" y2="589.76" stroke="#1a2f60" stroke-width="0.8"/>
<line x1="227.31" y1="583.83" x2="227.31" y2="587.83" stroke="#1a2f60" stroke-width="0.8"/>
<line x1="226.11" y1="583.83" x2="228.51" y2="583.83" stroke="#1a2f60" stroke-width="0.8"/>
<line x1="226.11" y1="587.83" x2="228.51" y2="587.83" stroke="#1a2f60" stroke-width="0.8"/>
<line x1="245.50" y1="583.83" x2="245.50" y2="587.83" stroke="#1a2f60" stroke-width="0.8"/>
<line x1="244.30" y1="583.83" x2="246.70" y2="583.83" stroke="#1a2f60" stroke-width="0.8"/>
<line x1="244.30" y1="587.83" x2="246.70" y2="587.83" stroke="#1a2f60" stroke-width="0.8"/>
<rect x="75.75" y="566.30" width="47.25" height="25.70" fill="#fff" stroke="#555" stroke-width="1"/>
<line x1="78.75" y1="572.30" x2="88.75" y2="572.30" stroke="#e8101c" stroke-width="2.0"/>
<circle cx="83.75" cy="572.30" r="1.2" fill="#701030"/>
<text x="91.25" y="574.06" font-size="4.9" text-anchor="start" font-weight="normal" font-style="normal" fill="#222" stroke="#222" stroke-width="0.05" textLength="12.9" lengthAdjust="spacingAndGlyphs">Control</text>
<line x1="78.75" y1="580.20" x2="88.75" y2="580.20" stroke="#1a2f86" stroke-width="1.4"/>
<text x="91.25" y="581.96" font-size="4.9" text-anchor="start" font-weight="normal" font-style="normal" fill="#222" stroke="#222" stroke-width="0.05" textLength="21.5" lengthAdjust="spacingAndGlyphs">shRNA-Con</text>
<line x1="78.75" y1="588.00" x2="88.75" y2="588.00" stroke="#1fb14a" stroke-width="2.2"/>
<text x="91.25" y="589.76" font-size="4.9" text-anchor="start" font-weight="normal" font-style="normal" fill="#222" stroke="#222" stroke-width="0.05" textLength="25.5" lengthAdjust="spacingAndGlyphs">shRNA-Usp9x</text>
<polygon points="153.75,572.80 154.42,574.58 156.32,574.67 154.83,575.85 155.34,577.68 153.75,576.63 152.16,577.68 152.67,575.85 151.18,574.67 153.08,574.58" fill="#222"/>
<polygon points="172.00,591.80 172.67,593.58 174.57,593.67 173.08,594.85 173.59,596.68 172.00,595.63 170.41,596.68 170.92,594.85 169.43,593.67 171.33,593.58" fill="#222"/>
<polygon points="191.50,601.90 192.17,603.68 194.07,603.77 192.58,604.95 193.09,606.78 191.50,605.73 189.91,606.78 190.42,604.95 188.93,603.77 190.83,603.68" fill="#222"/>
<polygon points="209.20,601.90 209.87,603.68 211.77,603.77 210.28,604.95 210.79,606.78 209.20,605.73 207.61,606.78 208.12,604.95 206.63,603.77 208.53,603.68" fill="#222"/>
<polygon points="227.30,601.90 227.97,603.68 229.87,603.77 228.38,604.95 228.89,606.78 227.30,605.73 225.71,606.78 226.22,604.95 224.73,603.77 226.63,603.68" fill="#222"/>
<polygon points="244.60,601.90 245.27,603.68 247.17,603.77 245.68,604.95 246.19,606.78 244.60,605.73 243.01,606.78 243.52,604.95 242.03,603.77 243.93,603.68" fill="#222"/>
<rect x="184.50" y="494.60" width="61.80" height="74.70" fill="#fff" stroke="#222" stroke-width="1"/>
<text x="199.44" y="529.50" font-size="5.4" text-anchor="start" font-weight="normal" font-style="normal" fill="#000" stroke="#000" stroke-width="0.05" transform="rotate(-90 199.44 529.50)" textLength="15.5" lengthAdjust="spacingAndGlyphs">Control</text>
<text x="208.94" y="529.50" font-size="5.4" text-anchor="start" font-weight="normal" font-style="normal" fill="#000" stroke="#000" stroke-width="0.05" transform="rotate(-90 208.94 529.50)" textLength="21.5" lengthAdjust="spacingAndGlyphs">shRNA-Con</text>
<text x="217.94" y="529.50" font-size="5.4" text-anchor="start" font-weight="normal" font-style="normal" fill="#000" stroke="#000" stroke-width="0.05" transform="rotate(-90 217.94 529.50)" textLength="31" lengthAdjust="spacingAndGlyphs">shRNA-Usp9x</text>
<rect x="193.20" y="532.50" width="27.10" height="8.00" fill="#ececec"/>
<rect x="193.20" y="542.00" width="27.10" height="7.00" fill="#ececec"/>
<rect x="193.20" y="551.00" width="27.10" height="7.00" fill="#ececec"/>
<rect x="193.50" y="535.00" width="9.00" height="3.00" rx="1.50" fill="#000000" filter="url(#b05)"/>
<rect x="202.50" y="535.00" width="9.00" height="3.00" rx="1.50" fill="#000000" filter="url(#b05)"/>
<rect x="211.50" y="535.00" width="9.00" height="3.00" rx="1.50" fill="#8d8d8d" filter="url(#b05)"/>
<rect x="193.50" y="544.40" width="9.00" height="2.20" rx="1.10" fill="#000000" filter="url(#b05)"/>
<rect x="202.50" y="544.40" width="9.00" height="2.20" rx="1.10" fill="#0c0c0c" filter="url(#b05)"/>
<rect x="211.50" y="544.40" width="9.00" height="2.20" rx="1.10" fill="#818181" filter="url(#b05)"/>
<rect x="193.50" y="553.20" width="9.00" height="2.20" rx="1.10" fill="#000000" filter="url(#b05)"/>
<rect x="202.50" y="553.20" width="9.00" height="2.20" rx="1.10" fill="#000000" filter="url(#b05)"/>
<rect x="211.50" y="553.20" width="9.00" height="2.20" rx="1.10" fill="#0c0c0c" filter="url(#b05)"/>
<line x1="222.60" y1="536.50" x2="225.20" y2="536.50" stroke="#222" stroke-width="0.6"/>
<text x="226.50" y="538.41" font-size="5.3" text-anchor="start" font-weight="normal" font-style="normal" fill="#222" stroke="#222" stroke-width="0.05" textLength="14.5" lengthAdjust="spacingAndGlyphs">Usp9x</text>
<line x1="222.60" y1="545.50" x2="225.20" y2="545.50" stroke="#222" stroke-width="0.6"/>
<text x="226.50" y="547.41" font-size="5.3" text-anchor="start" font-weight="normal" font-style="normal" fill="#222" stroke="#222" stroke-width="0.05" textLength="12" lengthAdjust="spacingAndGlyphs">Mcl-1</text>
<line x1="222.60" y1="554.30" x2="225.20" y2="554.30" stroke="#222" stroke-width="0.6"/>
<text x="226.50" y="556.21" font-size="5.3" text-anchor="start" font-weight="normal" font-style="normal" fill="#222" stroke="#222" stroke-width="0.05" textLength="12.5" lengthAdjust="spacingAndGlyphs">Actin</text>
<text x="207.00" y="565.39" font-size="7.2" text-anchor="middle" font-weight="normal" font-style="normal" fill="#000" stroke="#000" stroke-width="0.05">BV-173</text>
<line x1="290.40" y1="585.65" x2="474.20" y2="585.65" stroke="#c8c8c8" stroke-width="0.9"/>
<line x1="290.40" y1="562.30" x2="474.20" y2="562.30" stroke="#c8c8c8" stroke-width="0.9"/>
<line x1="290.40" y1="538.95" x2="474.20" y2="538.95" stroke="#c8c8c8" stroke-width="0.9"/>
<line x1="290.40" y1="515.60" x2="474.20" y2="515.60" stroke="#c8c8c8" stroke-width="0.9"/>
<line x1="290.40" y1="496.70" x2="290.40" y2="609.50" stroke="#555" stroke-width="1.0"/>
<line x1="290.40" y1="609.00" x2="474.20" y2="609.00" stroke="#222" stroke-width="1.1"/>
<line x1="287.90" y1="609.00" x2="290.40" y2="609.00" stroke="#444" stroke-width="0.9"/>
<text x="285.40" y="611.88" font-size="8.0" text-anchor="end" font-weight="bold" font-style="italic" fill="#222" stroke="#222" stroke-width="0.0" textLength="3.0" lengthAdjust="spacingAndGlyphs">0</text>
<line x1="287.90" y1="585.65" x2="290.40" y2="585.65" stroke="#444" stroke-width="0.9"/>
<text x="285.40" y="588.53" font-size="8.0" text-anchor="end" font-weight="bold" font-style="italic" fill="#222" stroke="#222" stroke-width="0.0" textLength="5.6" lengthAdjust="spacingAndGlyphs">25</text>
<line x1="287.90" y1="562.30" x2="290.40" y2="562.30" stroke="#444" stroke-width="0.9"/>
<text x="285.40" y="565.18" font-size="8.0" text-anchor="end" font-weight="bold" font-style="italic" fill="#222" stroke="#222" stroke-width="0.0" textLength="5.6" lengthAdjust="spacingAndGlyphs">50</text>
<line x1="287.90" y1="538.95" x2="290.40" y2="538.95" stroke="#444" stroke-width="0.9"/>
<text x="285.40" y="541.83" font-size="8.0" text-anchor="end" font-weight="bold" font-style="italic" fill="#222" stroke="#222" stroke-width="0.0" textLength="5.6" lengthAdjust="spacingAndGlyphs">75</text>
<line x1="287.90" y1="515.60" x2="290.40" y2="515.60" stroke="#444" stroke-width="0.9"/>
<text x="285.40" y="518.48" font-size="8.0" text-anchor="end" font-weight="bold" font-style="italic" fill="#222" stroke="#222" stroke-width="0.0" textLength="8.8" lengthAdjust="spacingAndGlyphs">100</text>
<line x1="290.40" y1="609.00" x2="290.40" y2="611.20" stroke="#222" stroke-width="0.9"/>
<text x="293.80" y="620.60" font-size="7.2" text-anchor="end" font-weight="bold" font-style="italic" fill="#222" stroke="#222" stroke-width="0.0" transform="rotate(-63 293.80 620.60)">0</text>
<line x1="308.70" y1="609.00" x2="308.70" y2="611.20" stroke="#222" stroke-width="0.9"/>
<text x="312.10" y="620.60" font-size="7.2" text-anchor="end" font-weight="bold" font-style="italic" fill="#222" stroke="#222" stroke-width="0.0" transform="rotate(-63 312.10 620.60)">0.009</text>
<line x1="327.00" y1="609.00" x2="327.00" y2="611.20" stroke="#222" stroke-width="0.9"/>
<text x="330.40" y="620.60" font-size="7.2" text-anchor="end" font-weight="bold" font-style="italic" fill="#222" stroke="#222" stroke-width="0.0" transform="rotate(-63 330.40 620.60)">0.019</text>
<line x1="345.30" y1="609.00" x2="345.30" y2="611.20" stroke="#222" stroke-width="0.9"/>
<text x="348.70" y="620.60" font-size="7.2" text-anchor="end" font-weight="bold" font-style="italic" fill="#222" stroke="#222" stroke-width="0.0" transform="rotate(-63 348.70 620.60)">0.039</text>
<line x1="363.60" y1="609.00" x2="363.60" y2="611.20" stroke="#222" stroke-width="0.9"/>
<text x="367.00" y="620.60" font-size="7.2" text-anchor="end" font-weight="bold" font-style="italic" fill="#222" stroke="#222" stroke-width="0.0" transform="rotate(-63 367.00 620.60)">0.078</text>
<line x1="381.90" y1="609.00" x2="381.90" y2="611.20" stroke="#222" stroke-width="0.9"/>
<text x="385.30" y="620.60" font-size="7.2" text-anchor="end" font-weight="bold" font-style="italic" fill="#222" stroke="#222" stroke-width="0.0" transform="rotate(-63 385.30 620.60)">0.156</text>
<line x1="400.20" y1="609.00" x2="400.20" y2="611.20" stroke="#222" stroke-width="0.9"/>
<text x="403.60" y="620.60" font-size="7.2" text-anchor="end" font-weight="bold" font-style="italic" fill="#222" stroke="#222" stroke-width="0.0" transform="rotate(-63 403.60 620.60)">0.312</text>
<line x1="418.50" y1="609.00" x2="418.50" y2="611.20" stroke="#222" stroke-width="0.9"/>
<text x="421.90" y="620.60" font-size="7.2" text-anchor="end" font-weight="bold" font-style="italic" fill="#222" stroke="#222" stroke-width="0.0" transform="rotate(-63 421.90 620.60)">0.625</text>
<line x1="436.80" y1="609.00" x2="436.80" y2="611.20" stroke="#222" stroke-width="0.9"/>
<text x="440.20" y="620.60" font-size="7.2" text-anchor="end" font-weight="bold" font-style="italic" fill="#222" stroke="#222" stroke-width="0.0" transform="rotate(-63 440.20 620.60)">1.25</text>
<line x1="455.10" y1="609.00" x2="455.10" y2="611.20" stroke="#222" stroke-width="0.9"/>
<text x="458.50" y="620.60" font-size="7.2" text-anchor="end" font-weight="bold" font-style="italic" fill="#222" stroke="#222" stroke-width="0.0" transform="rotate(-63 458.50 620.60)">2.5</text>
<line x1="473.40" y1="609.00" x2="473.40" y2="611.20" stroke="#222" stroke-width="0.9"/>
<text x="476.80" y="620.60" font-size="7.2" text-anchor="end" font-weight="bold" font-style="italic" fill="#222" stroke="#222" stroke-width="0.0" transform="rotate(-63 476.80 620.60)">5</text>
<text x="379.20" y="649.28" font-size="6.6" text-anchor="middle" font-weight="bold" font-style="normal" fill="#222" stroke="#222" stroke-width="0.0" textLength="36.3" lengthAdjust="spacingAndGlyphs">ABT-263 (µM)</text>
<text x="273.98" y="570.35" font-size="6.6" text-anchor="start" font-weight="bold" font-style="normal" fill="#222" stroke="#222" stroke-width="0.0" transform="rotate(-90 273.98 570.35)" textLength="39.7" lengthAdjust="spacingAndGlyphs">Survival %</text>
<polyline points="290.40,515.60 308.70,545.96 327.00,553.33 345.30,565.38 363.60,578.93 381.90,577.52 400.20,572.11 418.50,584.16 436.80,606.29 455.10,609.00 473.40,609.00" fill="none" stroke="#e8101c" stroke-width="2.3" stroke-linejoin="round"/>
<polyline points="290.40,515.60 308.70,553.33 327.00,556.79 345.30,568.00 363.60,579.39 381.90,578.93 400.20,574.82 418.50,585.65 436.80,606.66 455.10,609.00 473.40,609.00" fill="none" stroke="#1a2f86" stroke-width="1.4" stroke-linejoin="round"/>
<polyline points="290.40,515.60 308.70,547.54 327.00,554.17 345.30,561.74 363.60,568.18 381.90,585.65 400.20,609.00 418.50,609.00 436.80,609.00 455.10,609.00 473.40,609.00" fill="none" stroke="#1fb14a" stroke-width="2.3" stroke-linejoin="round"/>
<rect x="289.40" y="514.60" width="2" height="2" fill="#e8101c" transform="rotate(45 290.40 515.60)"/>
<rect x="307.70" y="544.96" width="2" height="2" fill="#e8101c" transform="rotate(45 308.70 545.96)"/>
<rect x="326.00" y="552.33" width="2" height="2" fill="#e8101c" transform="rotate(45 327.00 553.33)"/>
<rect x="344.30" y="564.38" width="2" height="2" fill="#e8101c" transform="rotate(45 345.30 565.38)"/>
<rect x="362.60" y="577.93" width="2" height="2" fill="#e8101c" transform="rotate(45 363.60 578.93)"/>
<rect x="380.90" y="576.52" width="2" height="2" fill="#e8101c" transform="rotate(45 381.90 577.52)"/>
<rect x="399.20" y="571.11" width="2" height="2" fill="#e8101c" transform="rotate(45 400.20 572.11)"/>
<rect x="417.50" y="583.16" width="2" height="2" fill="#e8101c" transform="rotate(45 418.50 584.16)"/>
<rect x="435.80" y="605.29" width="2" height="2" fill="#e8101c" transform="rotate(45 436.80 606.29)"/>
<rect x="454.10" y="608.00" width="2" height="2" fill="#e8101c" transform="rotate(45 455.10 609.00)"/>
<rect x="472.40" y="608.00" width="2" height="2" fill="#e8101c" transform="rotate(45 473.40 609.00)"/>
<rect x="289.40" y="514.60" width="2" height="2" fill="#1a2f86" transform="rotate(45 290.40 515.60)"/>
<rect x="307.70" y="552.33" width="2" height="2" fill="#1a2f86" transform="rotate(45 308.70 553.33)"/>
<rect x="326.00" y="555.79" width="2" height="2" fill="#1a2f86" transform="rotate(45 327.00 556.79)"/>
<rect x="344.30" y="567.00" width="2" height="2" fill="#1a2f86" transform="rotate(45 345.30 568.00)"/>
<rect x="362.60" y="578.39" width="2" height="2" fill="#1a2f86" transform="rotate(45 363.60 579.39)"/>
<rect x="380.90" y="577.93" width="2" height="2" fill="#1a2f86" transform="rotate(45 381.90 578.93)"/>
<rect x="399.20" y="573.82" width="2" height="2" fill="#1a2f86" transform="rotate(45 400.20 574.82)"/>
<rect x="417.50" y="584.65" width="2" height="2" fill="#1a2f86" transform="rotate(45 418.50 585.65)"/>
<rect x="435.80" y="605.66" width="2" height="2" fill="#1a2f86" transform="rotate(45 436.80 606.66)"/>
<rect x="454.10" y="608.00" width="2" height="2" fill="#1a2f86" transform="rotate(45 455.10 609.00)"/>
<rect x="472.40" y="608.00" width="2" height="2" fill="#1a2f86" transform="rotate(45 473.40 609.00)"/>
<rect x="289.40" y="514.60" width="2" height="2" fill="#1fb14a" transform="rotate(45 290.40 515.60)"/>
<rect x="307.70" y="546.54" width="2" height="2" fill="#1fb14a" transform="rotate(45 308.70 547.54)"/>
<rect x="326.00" y="553.17" width="2" height="2" fill="#1fb14a" transform="rotate(45 327.00 554.17)"/>
<rect x="344.30" y="560.74" width="2" height="2" fill="#1fb14a" transform="rotate(45 345.30 561.74)"/>
<rect x="362.60" y="567.18" width="2" height="2" fill="#1fb14a" transform="rotate(45 363.60 568.18)"/>
<rect x="380.90" y="584.65" width="2" height="2" fill="#1fb14a" transform="rotate(45 381.90 585.65)"/>
<rect x="399.20" y="608.00" width="2" height="2" fill="#1fb14a" transform="rotate(45 400.20 609.00)"/>
<rect x="417.50" y="608.00" width="2" height="2" fill="#1fb14a" transform="rotate(45 418.50 609.00)"/>
<rect x="435.80" y="608.00" width="2" height="2" fill="#1fb14a" transform="rotate(45 436.80 609.00)"/>
<rect x="454.10" y="608.00" width="2" height="2" fill="#1fb14a" transform="rotate(45 455.10 609.00)"/>
<rect x="472.40" y="608.00" width="2" height="2" fill="#1fb14a" transform="rotate(45 473.40 609.00)"/>
<line x1="290.40" y1="514.60" x2="290.40" y2="516.60" stroke="#1a2f60" stroke-width="0.8"/>
<line x1="289.20" y1="514.60" x2="291.60" y2="514.60" stroke="#1a2f60" stroke-width="0.8"/>
<line x1="289.20" y1="516.60" x2="291.60" y2="516.60" stroke="#1a2f60" stroke-width="0.8"/>
<line x1="308.70" y1="550.96" x2="308.70" y2="554.96" stroke="#1a2f60" stroke-width="0.8"/>
<line x1="307.50" y1="550.96" x2="309.90" y2="550.96" stroke="#1a2f60" stroke-width="0.8"/>
<line x1="307.50" y1="554.96" x2="309.90" y2="554.96" stroke="#1a2f60" stroke-width="0.8"/>
<line x1="327.00" y1="552.83" x2="327.00" y2="556.83" stroke="#1a2f60" stroke-width="0.8"/>
<line x1="325.80" y1="552.83" x2="328.20" y2="552.83" stroke="#1a2f60" stroke-width="0.8"/>
<line x1="325.80" y1="556.83" x2="328.20" y2="556.83" stroke="#1a2f60" stroke-width="0.8"/>
<line x1="345.30" y1="565.90" x2="345.30" y2="569.90" stroke="#1a2f60" stroke-width="0.8"/>
<line x1="344.10" y1="565.90" x2="346.50" y2="565.90" stroke="#1a2f60" stroke-width="0.8"/>
<line x1="344.10" y1="569.90" x2="346.50" y2="569.90" stroke="#1a2f60" stroke-width="0.8"/>
<line x1="363.60" y1="577.11" x2="363.60" y2="581.11" stroke="#1a2f60" stroke-width="0.8"/>
<line x1="362.40" y1="577.11" x2="364.80" y2="577.11" stroke="#1a2f60" stroke-width="0.8"/>
<line x1="362.40" y1="581.11" x2="364.80" y2="581.11" stroke="#1a2f60" stroke-width="0.8"/>
<line x1="381.90" y1="576.18" x2="381.90" y2="580.18" stroke="#1a2f60" stroke-width="0.8"/>
<line x1="380.70" y1="576.18" x2="383.10" y2="576.18" stroke="#1a2f60" stroke-width="0.8"/>
<line x1="380.70" y1="580.18" x2="383.10" y2="580.18" stroke="#1a2f60" stroke-width="0.8"/>
<line x1="400.20" y1="570.51" x2="400.20" y2="576.51" stroke="#1a2f60" stroke-width="0.8"/>
<line x1="399.00" y1="570.51" x2="401.40" y2="570.51" stroke="#1a2f60" stroke-width="0.8"/>
<line x1="399.00" y1="576.51" x2="401.40" y2="576.51" stroke="#1a2f60" stroke-width="0.8"/>
<line x1="418.50" y1="582.72" x2="418.50" y2="586.72" stroke="#1a2f60" stroke-width="0.8"/>
<line x1="417.30" y1="582.72" x2="419.70" y2="582.72" stroke="#1a2f60" stroke-width="0.8"/>
<line x1="417.30" y1="586.72" x2="419.70" y2="586.72" stroke="#1a2f60" stroke-width="0.8"/>
<line x1="436.80" y1="606.13" x2="436.80" y2="608.13" stroke="#1a2f60" stroke-width="0.8"/>
<line x1="435.60" y1="606.13" x2="438.00" y2="606.13" stroke="#1a2f60" stroke-width="0.8"/>
<line x1="435.60" y1="608.13" x2="438.00" y2="608.13" stroke="#1a2f60" stroke-width="0.8"/>
<line x1="455.10" y1="608.00" x2="455.10" y2="610.00" stroke="#1a2f60" stroke-width="0.8"/>
<line x1="453.90" y1="608.00" x2="456.30" y2="608.00" stroke="#1a2f60" stroke-width="0.8"/>
<line x1="453.90" y1="610.00" x2="456.30" y2="610.00" stroke="#1a2f60" stroke-width="0.8"/>
<line x1="473.40" y1="608.00" x2="473.40" y2="610.00" stroke="#1a2f60" stroke-width="0.8"/>
<line x1="472.20" y1="608.00" x2="474.60" y2="608.00" stroke="#1a2f60" stroke-width="0.8"/>
<line x1="472.20" y1="610.00" x2="474.60" y2="610.00" stroke="#1a2f60" stroke-width="0.8"/>
<rect x="425.20" y="502.10" width="48.50" height="26.10" fill="#fff" stroke="#555" stroke-width="1"/>
<line x1="427.00" y1="507.50" x2="439.20" y2="507.50" stroke="#e8101c" stroke-width="2.0"/>
<circle cx="433.10" cy="507.50" r="1.2" fill="#701030"/>
<text x="441.40" y="509.26" font-size="4.9" text-anchor="start" font-weight="normal" font-style="normal" fill="#222" stroke="#222" stroke-width="0.05" textLength="12.9" lengthAdjust="spacingAndGlyphs">Control</text>
<line x1="427.00" y1="515.50" x2="439.20" y2="515.50" stroke="#1a2f86" stroke-width="1.4"/>
<text x="441.40" y="517.26" font-size="4.9" text-anchor="start" font-weight="normal" font-style="normal" fill="#222" stroke="#222" stroke-width="0.05" textLength="21.5" lengthAdjust="spacingAndGlyphs">shRNA-Con</text>
<line x1="427.00" y1="523.10" x2="439.20" y2="523.10" stroke="#1fb14a" stroke-width="2.2"/>
<text x="441.40" y="524.86" font-size="4.9" text-anchor="start" font-weight="normal" font-style="normal" fill="#222" stroke="#222" stroke-width="0.05" textLength="25.5" lengthAdjust="spacingAndGlyphs">shRNA-Usp9x</text>
<polygon points="400.20,597.20 400.87,598.98 402.77,599.07 401.28,600.25 401.79,602.08 400.20,601.03 398.61,602.08 399.12,600.25 397.63,599.07 399.53,598.98" fill="#222"/>
<polygon points="418.50,598.30 419.17,600.08 421.07,600.17 419.58,601.35 420.09,603.18 418.50,602.13 416.91,603.18 417.42,601.35 415.93,600.17 417.83,600.08" fill="#222"/>
</svg></body></html>
